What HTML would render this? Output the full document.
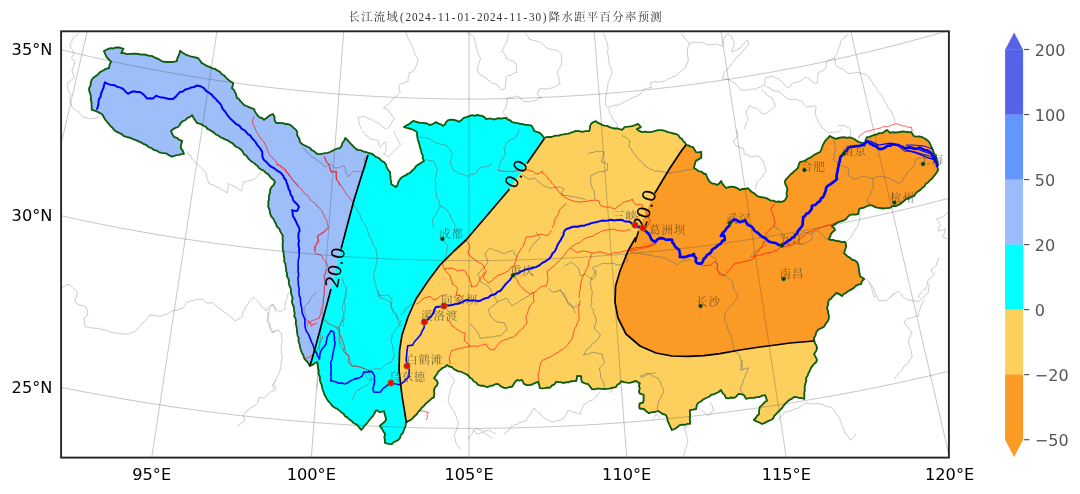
<!DOCTYPE html>
<html><head><meta charset="utf-8"><title>长江流域降水距平百分率预测</title>
<style>
html,body{margin:0;padding:0;background:#fff;}
body{width:1080px;height:494px;overflow:hidden;}
svg{display:block}
.tk{font-family:"DejaVu Sans","Liberation Sans",sans-serif;font-size:16.2px;fill:#000}
.cb{font-family:"DejaVu Sans","Liberation Sans",sans-serif;font-size:16px;fill:#555}
.cl{font-family:"DejaVu Sans","Liberation Sans",sans-serif;font-size:18.3px;fill:#000}
.city{font-family:"Liberation Serif","Noto Serif CJK SC",serif;font-size:11.5px;letter-spacing:0.9px;fill:#3a3a2a;fill-opacity:.68}
.ttl{font-family:"Liberation Serif","Noto Serif CJK SC",serif;font-size:11.3px;fill:#333}
</style></head><body>
<svg width="1080" height="494" viewBox="0 0 1080 494">
<defs>
<clipPath id="fr"><rect x="61.1" y="31.3" width="887.8" height="426.3"/></clipPath>
<clipPath id="bs"><path d="M103.9 51.1 L108.0 49.0 L110.7 48.1 L113.5 48.3 L116.2 47.4 L118.8 47.5 L121.3 48.2 L123.5 48.9 L121.2 53.0 L124.0 53.2 L126.9 54.2 L130.1 53.9 L132.8 53.7 L135.6 53.7 L138.4 54.0 L141.2 54.7 L144.0 54.5 L146.5 54.9 L149.0 55.8 L151.6 55.8 L153.9 57.1 L156.3 58.1 L158.6 59.1 L160.7 60.5 L162.9 61.7 L166.5 62.0 L170.0 62.0 L173.6 61.9 L176.9 61.2 L177.3 58.4 L178.4 56.0 L179.5 53.6 L180.0 50.8 L182.6 52.7 L185.2 54.3 L188.1 55.5 L190.4 56.4 L193.0 56.9 L195.5 57.5 L198.1 58.2 L200.0 60.5 L201.8 63.1 L204.6 64.5 L207.1 66.2 L209.9 67.0 L212.4 68.4 L215.3 69.0 L217.5 70.7 L219.9 71.8 L221.5 74.0 L223.8 75.2 L225.5 77.0 L227.1 78.8 L229.0 80.3 L231.0 81.7 L233.1 83.1 L232.8 85.6 L231.9 88.1 L233.9 89.9 L235.3 92.6 L236.3 95.2 L237.0 97.9 L239.2 99.3 L240.6 101.4 L242.4 103.1 L244.2 105.1 L246.5 106.0 L248.9 107.1 L251.4 108.2 L254.1 109.1 L254.9 111.6 L256.4 113.8 L258.0 115.9 L259.9 117.5 L262.3 118.2 L263.9 119.9 L266.1 118.3 L268.2 116.6 L270.4 115.0 L272.9 114.0 L274.5 116.8 L274.6 120.1 L275.9 122.9 L278.4 123.0 L280.8 123.2 L283.2 123.1 L285.6 124.2 L288.0 124.0 L290.3 125.1 L292.3 126.6 L294.1 128.3 L296.1 129.9 L297.3 132.2 L297.1 135.0 L298.4 137.2 L299.6 139.5 L299.8 142.0 L302.4 144.2 L305.1 145.7 L307.9 147.0 L310.2 148.1 L311.8 150.1 L314.0 151.2 L315.8 152.9 L317.9 154.1 L320.5 154.2 L322.9 153.6 L325.3 153.2 L327.7 152.8 L329.9 152.0 L332.4 150.8 L334.8 149.5 L337.3 148.5 L339.9 148.1 L341.7 145.7 L342.4 143.0 L344.2 140.7 L345.2 138.0 L347.7 140.3 L349.9 142.9 L351.9 144.9 L353.7 146.9 L355.7 148.6 L358.1 150.1 L360.8 150.2 L363.3 151.5 L366.1 152.1 L368.7 153.0 L371.5 153.6 L373.9 155.1 L375.7 156.9 L378.1 157.7 L380.1 159.1 L381.7 161.0 L383.9 161.9 L385.9 164.3 L386.6 167.2 L388.2 169.7 L390.1 172.2 L390.0 174.4 L390.6 176.8 L390.5 179.2 L391.2 181.6 L391.2 184.1 L393.5 185.5 L396.0 187.1 L397.6 184.9 L398.2 182.3 L399.5 180.1 L400.9 178.0 L403.1 176.5 L405.5 175.4 L407.5 173.9 L409.9 173.0 L412.1 170.7 L414.4 168.6 L416.2 166.0 L418.7 164.4 L421.3 162.7 L424.0 160.9 L422.7 158.4 L422.8 155.4 L421.4 152.9 L421.1 150.0 L420.0 147.6 L419.5 145.0 L418.8 142.5 L417.9 140.0 L417.4 137.4 L417.1 134.7 L417.0 132.0 L414.1 130.2 L411.0 129.0 L408.7 128.3 L406.3 127.7 L404.0 127.0 L406.2 125.5 L408.8 124.4 L410.9 122.7 L413.2 120.9 L415.7 121.6 L418.4 122.5 L421.2 122.9 L423.9 123.0 L427.2 123.5 L429.8 125.1 L433.2 123.8 L435.9 122.1 L438.2 123.5 L440.9 124.3 L443.2 125.9 L445.1 124.3 L446.2 121.9 L448.2 120.1 L451.0 119.6 L454.0 119.9 L456.6 120.7 L459.1 121.8 L461.5 120.1 L463.8 117.9 L466.7 117.1 L469.3 116.0 L472.2 115.1 L474.4 115.8 L477.0 115.0 L479.5 115.5 L482.1 115.9 L484.3 117.1 L486.1 119.1 L488.5 118.7 L491.0 118.6 L493.5 119.5 L496.1 118.9 L498.4 118.2 L501.0 118.7 L503.5 118.2 L506.2 118.0 L507.8 119.6 L510.3 120.3 L511.8 122.1 L514.7 122.6 L517.4 123.1 L520.2 123.9 L522.5 124.0 L524.8 124.8 L527.3 124.9 L529.7 125.1 L531.8 125.9 L533.2 128.4 L534.1 130.9 L537.0 132.0 L539.9 132.8 L542.2 135.3 L544.1 138.0 L546.4 137.1 L549.0 137.0 L551.6 137.0 L554.1 136.0 L556.4 135.6 L558.9 135.6 L561.2 134.7 L563.6 134.4 L566.2 133.9 L568.6 133.6 L571.1 132.7 L573.5 131.9 L575.9 130.8 L579.1 131.1 L582.1 131.9 L585.4 131.1 L589.1 131.1 L589.9 128.7 L590.1 126.3 L590.9 124.0 L593.3 122.1 L595.9 121.2 L597.7 122.8 L600.0 123.7 L602.2 124.9 L604.5 125.6 L607.2 125.9 L609.5 127.1 L612.0 127.9 L614.5 128.5 L617.1 128.4 L619.6 129.2 L622.0 129.8 L624.9 126.9 L628.5 126.6 L632.1 126.1 L635.1 125.2 L638.0 123.9 L640.9 127.1 L636.8 129.1 L639.3 130.9 L642.1 132.1 L644.7 131.6 L647.3 132.0 L650.1 132.1 L652.8 131.7 L655.4 130.8 L658.1 130.1 L660.6 130.2 L663.1 130.4 L665.6 131.1 L667.9 132.1 L670.6 132.7 L673.3 133.5 L676.1 134.0 L678.4 135.2 L679.8 137.6 L682.0 139.0 L683.2 141.1 L685.1 142.7 L685.9 144.8 L688.4 145.4 L690.6 146.6 L693.1 147.2 L694.5 149.5 L696.0 152.1 L698.5 152.3 L701.1 151.8 L701.4 155.0 L701.1 157.9 L698.5 159.4 L695.8 160.9 L695.1 163.3 L694.4 165.6 L693.9 168.0 L697.0 169.9 L699.1 171.4 L701.6 171.7 L703.5 173.5 L705.8 174.0 L707.0 176.8 L708.2 179.6 L709.9 181.9 L712.1 183.5 L714.8 183.7 L716.9 185.0 L719.4 183.4 L721.1 181.0 L722.3 183.6 L724.1 185.8 L726.1 188.0 L728.6 187.1 L731.3 186.7 L734.0 186.9 L737.2 188.1 L739.9 190.1 L742.5 188.8 L745.4 189.0 L747.9 188.2 L749.8 190.2 L751.9 192.0 L754.7 193.6 L757.0 195.8 L759.9 197.0 L762.7 197.4 L765.5 197.8 L768.1 198.9 L770.5 200.5 L773.4 200.7 L776.0 201.9 L778.6 201.5 L781.4 201.9 L784.1 201.0 L785.9 198.8 L787.0 196.1 L786.5 193.3 L787.3 190.7 L787.1 188.1 L786.1 185.7 L785.1 183.5 L784.9 181.0 L786.9 178.4 L789.1 176.2 L790.6 174.2 L792.7 172.9 L794.2 171.0 L796.2 169.7 L797.9 167.9 L798.7 164.9 L800.0 161.9 L802.7 161.5 L805.2 160.6 L807.5 158.9 L809.9 157.9 L812.4 156.3 L814.7 154.6 L817.3 153.2 L820.0 152.1 L821.3 149.9 L821.9 147.5 L822.9 145.2 L824.0 142.9 L825.6 140.3 L827.8 138.2 L829.9 136.0 L832.9 137.6 L835.9 138.9 L838.6 138.0 L841.3 137.5 L844.2 137.1 L846.4 137.9 L849.1 137.4 L851.6 137.9 L854.1 139.0 L856.4 140.6 L859.0 142.2 L861.9 142.9 L865.2 142.9 L865.6 139.9 L867.0 137.1 L869.5 136.8 L871.7 135.9 L874.1 135.0 L876.7 134.4 L879.2 133.1 L881.9 133.2 L884.6 131.6 L886.9 129.9 L890.1 132.9 L892.4 132.2 L895.0 132.5 L897.5 132.3 L899.9 132.0 L902.8 131.4 L905.5 131.8 L908.2 132.0 L911.1 132.1 L912.5 134.0 L913.9 136.2 L916.6 136.6 L919.4 136.4 L922.0 137.1 L924.1 138.3 L926.2 139.4 L928.2 140.9 L929.7 143.0 L930.7 145.4 L931.8 147.7 L932.9 150.1 L933.7 152.6 L935.0 155.0 L936.3 157.4 L936.9 160.1 L937.6 162.5 L937.8 165.0 L937.4 167.5 L938.2 170.0 L936.6 172.6 L934.9 174.9 L933.1 177.2 L931.6 179.1 L929.6 180.6 L928.0 182.5 L925.9 183.8 L924.4 186.4 L922.1 188.1 L920.1 190.1 L917.6 191.6 L915.6 193.6 L913.9 196.2 L911.2 196.7 L908.9 198.5 L906.0 199.0 L904.1 200.7 L902.2 202.3 L900.4 204.0 L897.9 205.2 L895.6 206.2 L892.8 206.0 L890.6 207.6 L888.1 208.1 L885.5 208.1 L883.0 208.5 L880.5 208.0 L878.2 207.9 L875.3 207.2 L872.8 205.6 L870.0 205.1 L866.9 206.2 L863.8 207.8 L861.4 208.0 L859.1 209.1 L858.7 211.5 L858.2 214.0 L855.4 214.6 L852.6 214.4 L849.9 214.8 L847.8 216.8 L846.0 219.2 L843.5 220.5 L840.8 221.3 L838.2 222.2 L836.1 223.4 L834.2 224.9 L832.0 226.2 L833.8 227.8 L835.1 230.1 L832.8 231.8 L830.9 233.9 L830.2 236.6 L828.8 238.9 L831.2 240.0 L833.7 240.0 L835.8 241.0 L839.0 241.1 L841.9 242.2 L845.2 241.9 L846.0 244.4 L846.0 247.1 L845.1 250.0 L844.0 253.0 L845.9 254.8 L847.8 256.6 L850.1 257.9 L852.1 259.7 L854.8 260.5 L857.0 262.1 L858.0 264.2 L858.6 266.6 L858.9 269.1 L859.4 272.5 L860.0 276.2 L862.0 277.5 L864.1 279.1 L862.0 281.2 L861.0 284.1 L858.3 284.6 L855.8 285.9 L853.6 288.1 L850.9 289.6 L848.0 291.2 L846.1 292.8 L843.7 294.0 L841.9 296.1 L839.2 294.0 L836.0 293.0 L834.5 295.0 L832.6 296.6 L831.1 298.6 L828.9 300.0 L828.2 302.6 L828.0 305.4 L826.9 308.1 L827.9 310.4 L828.2 313.0 L828.8 315.4 L829.0 317.8 L828.2 320.5 L826.6 322.6 L825.2 324.7 L823.9 326.9 L820.9 328.3 L817.9 329.9 L816.2 332.4 L815.5 335.4 L813.9 338.0 L814.3 340.6 L814.9 343.2 L816.4 345.5 L817.1 347.9 L816.0 351.3 L814.0 354.1 L815.6 356.9 L817.0 359.9 L816.0 362.3 L814.0 364.0 L812.4 365.9 L810.9 368.0 L809.9 370.6 L808.5 373.0 L807.6 375.7 L806.0 378.2 L806.3 380.4 L805.6 382.8 L805.0 385.2 L804.6 387.6 L804.9 390.2 L804.1 392.9 L804.4 396.0 L804.2 399.0 L801.6 398.0 L799.0 397.9 L796.6 397.1 L794.1 396.9 L792.1 398.6 L789.8 399.7 L787.8 401.2 L785.9 403.0 L784.4 404.8 L782.9 406.7 L781.5 408.7 L779.8 410.4 L778.1 411.8 L776.2 414.0 L774.3 415.8 L773.2 418.4 L770.9 420.0 L768.7 420.9 L766.4 421.9 L764.3 423.2 L762.0 424.0 L759.4 422.5 L756.6 421.4 L753.8 420.0 L755.7 418.0 L757.1 415.8 L759.1 414.0 L759.1 410.4 L759.9 406.9 L762.3 404.9 L764.3 402.6 L767.0 400.8 L766.2 397.9 L765.1 395.1 L762.2 395.7 L759.6 397.0 L756.7 397.2 L754.2 397.9 L751.3 397.9 L748.6 398.1 L746.1 398.9 L744.0 395.2 L741.1 394.0 L738.1 394.2 L736.4 396.4 L734.1 397.9 L731.3 397.5 L728.7 398.3 L725.9 398.0 L724.8 395.1 L722.4 392.9 L721.0 389.9 L718.9 391.8 L716.5 393.0 L714.2 394.1 L711.1 394.9 L708.8 397.0 L705.9 398.0 L703.2 399.5 L700.8 401.5 L698.0 403.0 L696.6 405.9 L696.2 409.0 L693.0 409.6 L689.9 410.2 L689.9 412.8 L690.2 415.6 L689.7 418.4 L690.1 421.2 L690.1 423.8 L687.5 423.9 L685.0 424.8 L682.5 424.6 L680.0 425.1 L677.5 426.9 L675.0 428.8 L671.9 430.0 L670.4 427.0 L669.1 423.9 L667.7 421.1 L667.2 417.9 L665.8 414.9 L663.1 414.1 L660.6 412.5 L658.0 411.0 L655.1 412.0 L652.0 412.2 L648.9 413.2 L646.3 411.2 L643.9 409.0 L639.6 408.5 L639.2 406.0 L639.6 403.5 L643.1 402.5 L643.7 400.0 L643.6 397.5 L643.6 394.8 L639.5 393.4 L639.0 391.0 L639.8 388.5 L638.9 386.0 L639.7 383.4 L636.0 381.0 L632.9 381.8 L629.9 382.9 L626.9 382.6 L623.9 382.2 L621.1 381.1 L619.8 383.4 L617.3 384.7 L616.0 387.1 L613.6 387.5 L611.3 388.1 L608.9 388.7 L606.5 388.9 L603.9 389.1 L601.6 388.8 L599.2 388.6 L596.8 388.7 L594.4 389.3 L592.0 389.1 L590.0 386.5 L588.1 384.2 L584.9 383.3 L581.8 381.9 L581.2 379.1 L581.2 376.1 L577.1 375.9 L576.8 378.6 L576.0 381.1 L573.6 381.2 L571.1 381.2 L568.8 382.2 L566.3 382.2 L564.1 383.0 L561.4 382.4 L558.7 382.2 L555.9 382.0 L554.4 384.4 L551.7 385.7 L549.8 387.9 L547.5 387.5 L545.0 388.2 L542.5 388.4 L539.8 388.1 L539.2 384.9 L538.1 381.8 L535.3 382.9 L532.7 384.2 L530.1 385.1 L526.9 385.0 L524.1 384.2 L521.9 379.9 L519.5 380.6 L517.1 380.0 L515.0 382.1 L513.5 384.6 L511.9 386.9 L509.3 387.0 L506.7 388.0 L504.0 387.8 L501.8 386.9 L499.9 385.6 L498.0 383.9 L495.3 384.2 L493.0 385.5 L490.4 385.8 L487.8 387.0 L485.5 386.6 L483.1 385.7 L480.5 385.7 L478.0 384.9 L476.3 382.7 L473.7 381.3 L471.9 378.8 L469.8 377.6 L468.2 375.4 L465.8 374.0 L463.5 373.0 L461.1 371.7 L458.4 371.4 L455.9 370.1 L453.6 369.0 L451.8 367.0 L449.1 366.5 L447.1 365.0 L444.9 367.0 L442.2 368.2 L440.1 370.1 L438.2 371.8 L436.9 373.9 L435.6 376.1 L434.0 378.1 L436.4 380.2 L437.8 382.9 L436.9 385.5 L434.9 387.4 L434.0 390.1 L434.3 393.5 L434.0 397.1 L431.8 398.4 L429.9 400.2 L427.9 401.9 L425.7 403.7 L423.9 405.9 L421.8 407.8 L420.0 410.1 L418.2 411.9 L416.8 414.3 L414.8 416.0 L412.9 417.9 L410.8 419.9 L408.2 421.1 L405.9 422.9 L405.6 425.4 L404.9 427.7 L403.9 429.9 L403.0 432.8 L400.8 435.1 L399.9 438.2 L398.3 439.9 L396.1 441.1 L393.7 442.0 L392.1 444.0 L388.4 443.9 L384.9 442.9 L384.9 440.0 L384.4 437.0 L385.1 434.1 L383.3 431.3 L381.8 428.6 L379.9 426.0 L381.9 423.9 L384.2 422.2 L386.0 420.0 L385.6 416.9 L384.6 414.0 L384.1 411.1 L380.1 412.1 L376.1 410.0 L374.7 413.1 L372.9 416.0 L371.1 417.8 L369.5 419.8 L367.9 422.0 L366.3 424.0 L364.4 425.9 L362.8 428.1 L361.2 429.9 L359.5 427.9 L357.9 425.8 L356.0 424.2 L353.3 422.8 L351.4 420.6 L349.1 419.2 L347.2 417.4 L345.1 416.2 L343.7 414.1 L341.8 412.6 L340.0 411.1 L337.5 409.0 L334.7 407.6 L332.2 405.9 L330.5 403.5 L328.6 401.4 L326.9 399.2 L325.8 396.8 L324.5 394.7 L323.8 392.4 L322.8 390.0 L322.2 387.5 L321.7 384.9 L320.6 382.6 L319.9 380.1 L320.1 377.5 L319.2 375.2 L318.5 372.9 L318.8 370.3 L317.9 367.9 L317.8 364.9 L317.0 362.0 L314.6 363.3 L312.5 365.0 L309.9 366.0 L308.8 363.8 L307.3 361.8 L305.5 360.0 L304.0 357.9 L303.4 355.2 L301.8 352.7 L300.9 350.0 L300.2 347.7 L299.9 345.3 L299.1 343.0 L298.4 340.6 L298.8 338.1 L297.7 335.8 L297.2 333.4 L297.0 331.0 L296.8 328.5 L296.4 326.0 L295.7 323.5 L296.0 320.9 L295.5 318.4 L294.2 316.1 L294.8 313.4 L294.1 310.9 L294.0 308.4 L293.4 306.0 L292.3 303.6 L291.9 301.1 L292.7 298.4 L291.9 296.0 L291.1 293.5 L290.9 290.9 L290.7 288.4 L289.6 286.0 L288.7 283.6 L289.0 280.9 L288.2 278.4 L286.9 276.1 L287.1 273.4 L286.1 271.1 L286.1 268.4 L285.6 265.9 L285.3 263.4 L284.1 261.1 L284.4 258.5 L283.8 256.0 L283.7 253.5 L283.1 251.0 L282.7 248.5 L282.7 246.0 L282.6 243.5 L283.0 241.0 L282.5 238.5 L282.9 236.0 L281.6 233.6 L280.2 231.2 L279.2 228.6 L276.9 226.7 L276.0 224.0 L274.7 221.4 L273.4 218.8 L271.4 216.6 L270.2 213.8 L269.8 211.6 L269.4 209.2 L268.2 206.9 L268.5 204.4 L268.2 201.9 L269.0 199.7 L268.8 197.2 L269.2 194.8 L270.1 192.5 L270.1 190.0 L271.5 187.2 L273.7 184.9 L275.0 182.0 L273.5 179.8 L271.2 178.2 L269.7 176.1 L268.0 174.1 L265.6 172.7 L263.7 170.7 L261.2 169.6 L258.9 168.0 L257.6 165.9 L255.5 164.5 L253.7 162.7 L251.5 161.5 L249.7 159.8 L248.0 158.0 L246.5 155.8 L244.0 154.4 L242.8 151.8 L241.1 149.7 L238.8 147.9 L236.4 147.0 L234.3 145.3 L232.5 143.1 L230.1 142.1 L227.7 140.3 L225.1 139.4 L222.6 138.1 L220.1 137.0 L218.1 135.4 L215.8 134.5 L214.1 132.6 L212.0 131.4 L209.9 129.9 L207.7 129.1 L206.2 127.1 L204.1 126.0 L201.8 124.6 L199.5 123.7 L196.9 122.9 L195.3 120.4 L193.5 117.8 L192.1 115.2 L190.0 116.9 L187.5 117.9 L185.6 120.0 L183.1 121.0 L180.9 122.7 L179.7 125.0 L178.0 127.0 L175.4 127.9 L173.0 129.2 L171.0 130.9 L172.3 134.1 L173.9 136.8 L176.9 137.8 L179.2 139.9 L182.2 140.9 L181.1 144.4 L180.8 148.1 L182.8 150.9 L183.9 153.8 L181.5 154.2 L179.1 154.8 L176.7 155.1 L174.3 155.8 L172.0 156.7 L169.3 155.4 L166.9 153.7 L164.2 153.1 L161.3 152.8 L158.8 152.1 L156.6 150.6 L153.8 149.9 L151.5 148.1 L148.5 147.0 L146.0 144.8 L143.4 143.9 L141.0 142.4 L138.5 141.3 L135.9 140.1 L133.5 139.4 L131.3 138.2 L128.8 137.5 L126.4 136.9 L124.1 136.2 L121.7 134.2 L119.0 132.9 L116.4 131.7 L114.2 130.1 L112.5 127.7 L110.3 126.1 L108.8 123.9 L107.1 122.0 L105.1 119.5 L103.6 116.7 L102.0 114.1 L99.5 112.9 L97.2 111.6 L94.6 110.7 L91.8 109.9 L91.7 107.5 L91.6 105.0 L91.6 102.5 L90.8 100.1 L91.0 97.5 L90.6 95.1 L89.9 92.8 L89.1 90.4 L89.1 88.1 L90.5 85.7 L90.8 82.9 L91.5 80.3 L93.1 77.9 L95.5 76.2 L98.0 74.4 L100.0 72.1 L102.2 71.0 L104.4 69.7 L106.6 68.7 L109.1 68.0 L109.5 64.8 L111.1 61.9 L108.8 59.4 L106.5 57.0 L105.2 54.0 Z"/></clipPath>
</defs>
<rect width="1080" height="494" fill="#fff"/>

<g clip-path="url(#fr)">
<g id="prov" fill="none" stroke="#b4b4b4" stroke-width="0.7"><path d="M79.2 33.1 L77.5 34.7 L75.5 36.0 L73.8 37.6 L72.1 38.9 L71.9 41.5 L70.3 43.6 L70.1 45.9 L71.4 48.0 L72.5 50.2 L74.2 52.2 L73.5 54.3 L72.5 56.3 L71.2 58.0 L73.3 59.8 L74.9 62.0 L74.1 64.8 L73.0 67.4 L71.9 70.0 L72.7 72.7 L73.6 75.4 L74.1 78.1 L71.9 79.3 L70.2 81.1 L68.1 82.0 L67.7 85.1 L67.1 88.3 L68.4 90.1 L69.4 92.3 L71.0 94.2 L70.2 96.7 L69.9 99.4 L70.1 102.0 L71.3 104.0 L71.7 106.3 L72.9 108.2 L74.9 109.7 L76.9 111.0 L79.0 112.2 L80.5 114.4 L82.4 116.2 L84.0 118.0 L86.3 117.6 L88.5 118.4 L90.7 118.8 L92.9 118.3 L95.0 118.2 L97.9 117.2 L100.1 115.2"/><path d="M405.4 31.8 L406.7 33.8 L406.9 36.2 L408.0 38.1 L409.1 40.1 L410.3 42.1 L411.2 44.6 L412.7 46.9 L413.4 49.5 L414.4 52.2 L414.8 54.3 L416.2 56.1 L417.3 58.0 L418.1 59.9 L417.3 62.6 L416.5 65.2 L415.4 67.6 L414.3 70.1 L411.9 71.9 L409.2 73.0 L408.9 75.8 L408.0 78.4 L408.1 81.2 L405.9 81.8 L403.6 82.8 L401.3 83.7 L399.4 85.1 L399.0 87.5 L399.4 89.9 L400.3 92.2 L398.3 94.2 L396.2 96.1 L394.4 98.1 L392.0 99.9 L390.4 102.3 L388.4 104.1 L385.7 106.1 L383.3 108.2 L385.8 108.8 L388.3 110.0 L389.3 112.5 L391.5 114.0 L392.3 116.5 L394.4 118.3 L392.9 120.5 L391.5 122.8 L390.3 125.1 L389.0 127.3 L387.2 129.0"/><path d="M361.2 129.0 L360.3 126.5 L359.0 124.0 L359.2 121.8 L358.2 119.6 L358.3 117.2 L361.2 117.1 L364.2 116.0 L366.1 117.3 L368.0 118.6 L370.2 119.2 L372.3 120.0 L374.1 121.5 L376.2 122.3 L378.3 123.0 L380.3 124.2 L382.0 126.0 L383.9 127.7 L386.2 129.0"/><path d="M467.2 33.0 L470.0 34.3 L472.4 35.9 L474.5 38.1 L474.6 40.6 L475.7 43.0 L475.9 45.5 L476.3 47.9 L477.7 50.4 L477.9 53.2 L479.0 55.7 L480.5 57.9 L480.0 60.5 L479.1 62.8 L478.3 65.2 L477.6 67.6 L477.3 70.1 L478.7 72.7 L480.3 75.1 L482.6 75.7 L484.2 77.6 L486.4 78.0 L488.0 80.1 L490.1 81.5 L492.0 83.1"/><path d="M509.1 33.1 L508.0 35.1 L507.8 37.5 L507.0 39.7 L507.0 42.2 L505.6 43.9 L504.1 45.8 L503.7 48.3 L501.9 50.1 L502.9 52.1 L504.5 53.8 L505.3 55.9 L506.2 58.2 L508.2 58.7 L509.9 60.4 L512.2 60.7 L514.0 62.2 L515.9 63.2 L516.6 65.3 L516.9 67.5 L516.2 69.9 L517.0 72.3 L514.8 73.0 L512.6 73.9 L510.6 75.4 L508.0 75.6 L506.2 77.2 L506.1 79.3 L505.8 81.5 L505.8 83.7 L505.6 86.0 L505.0 88.2 L502.1 90.1 L499.9 88.3 L498.3 85.8 L495.9 84.1 L492.0 83.1"/><path d="M525.2 33.0 L526.6 34.9 L528.2 36.7 L529.1 39.1 L531.3 39.5 L533.4 40.5 L535.8 40.6 L537.8 41.8 L540.1 42.0 L541.7 43.7 L543.8 44.8 L545.3 46.6 L547.0 48.1 L549.3 48.9 L551.4 49.6 L553.8 49.6 L556.1 50.0 L558.2 51.0 L560.5 53.2 L562.2 56.0 L561.4 58.5 L561.5 61.1 L561.7 63.6 L561.1 66.2 L559.4 67.8 L558.5 70.1 L557.2 72.2 L557.2 74.6 L558.9 76.8 L559.1 79.3 L559.4 81.7 L560.2 84.0 L557.9 84.7 L556.1 86.1 L554.3 87.5 L552.1 88.0 L549.5 88.3 L546.9 89.0 L544.3 89.1 L541.7 88.5 L538.9 89.2 L538.6 91.8 L537.2 94.2 L539.3 96.0 L541.1 98.0 L538.7 98.3 L536.8 100.1 L534.4 100.5 L532.0 101.3 L529.4 101.8 L526.7 101.2 L524.1 102.3 L522.0 100.2 L520.3 97.9 L518.1 96.1 L515.8 96.3 L513.7 97.0 L511.5 97.8 L509.2 97.4 L507.0 98.2 L507.1 100.9 L506.9 103.6 L506.1 106.1 L505.3 108.3 L504.1 110.2 L502.9 112.1 L504.7 114.5 L506.9 116.3 L509.0 118.2 L512.0 121.2"/><path d="M603.1 33.1 L604.5 35.0 L604.8 37.4 L605.8 39.6 L606.9 41.6 L607.1 44.0 L607.9 46.3 L608.0 48.6 L607.8 50.9 L607.4 53.2 L608.4 55.5 L608.4 57.7 L608.4 60.1 L609.2 62.4 L609.3 65.1 L611.2 67.1 L611.0 69.8 L612.1 71.9 L611.5 74.7 L609.9 77.0 L609.6 79.7 L608.3 82.1 L607.7 84.6 L607.7 87.2 L607.2 89.7 L606.3 92.1 L606.3 94.5 L605.7 96.9 L605.7 99.3 L605.7 101.8 L605.3 104.1 L606.7 106.2 L608.4 108.2 L609.5 110.6 L609.7 113.4 L611.7 115.5 L612.3 118.1 L613.9 120.5 L616.0 122.5 L617.3 125.2 L617.3 129.0"/><path d="M608.4 107.0 L610.7 106.8 L612.9 105.5 L615.4 105.1 L618.0 105.3 L620.3 104.1 L622.2 103.1 L624.3 102.1 L626.1 100.8 L628.4 100.5 L630.1 98.7 L632.1 98.1 L634.2 97.0 L636.5 96.6 L638.2 95.0 L640.2 94.3 L641.9 91.3 L644.3 89.2 L646.6 88.3 L649.0 88.0 L651.4 87.3 L650.9 84.8 L650.2 82.7 L652.7 82.3 L655.0 81.7 L657.4 82.3 L659.7 81.7 L662.0 81.6 L664.3 81.1 L666.6 80.5 L668.2 78.7 L670.5 78.4 L672.1 76.7 L674.5 76.3 L676.5 75.2 L678.2 73.7 L679.8 72.0 L681.5 70.6 L683.6 69.5 L685.2 68.2 L686.4 65.4 L687.6 62.8 L688.3 59.9 L688.0 57.6 L687.6 55.1 L687.5 52.6 L687.5 50.2 L687.7 47.6 L688.6 45.3 L689.5 43.2 L687.5 41.6 L686.3 39.5 L684.2 38.1 L682.7 35.6 L681.4 33.0"/><path d="M689.3 42.9 L691.6 43.3 L693.7 42.0 L696.0 42.4 L698.3 42.7 L700.4 42.1 L703.2 42.5 L705.5 43.9 L708.0 45.0"/><path d="M708.0 45.1 L710.6 44.3 L713.4 44.7 L716.1 43.9 L719.0 45.1 L721.9 46.2 L723.1 43.1 L723.2 40.1 L724.6 37.6 L726.2 35.2 L728.0 33.1 L729.4 35.1 L731.4 36.7 L732.3 39.2 L734.2 41.1 L734.2 43.3 L733.8 45.5 L733.3 47.7 L731.9 49.7 L732.0 52.2 L734.0 50.8 L736.1 50.1 L738.0 49.0 L740.1 48.2 L741.5 45.8 L743.3 43.8 L745.2 42.0 L747.1 40.1 L749.1 43.2 L747.8 45.6 L745.7 47.7 L744.1 49.9 L742.2 51.4 L741.2 53.6 L739.5 55.1 L737.4 56.2 L736.0 58.0 L734.8 60.2 L733.3 62.2 L731.4 64.0 L729.9 66.1 L728.8 68.1 L726.9 69.5 L725.2 71.1 L724.0 73.0 L723.1 76.1 L722.1 79.0 L724.7 79.2 L727.4 79.3 L730.1 80.1 L731.8 81.8 L733.9 82.9 L736.1 84.3 L737.7 86.1 L739.3 88.2 L741.1 90.1 L743.4 90.0 L745.7 90.0 L748.1 90.1 L750.5 89.2 L753.1 89.0 L755.7 89.2 L757.9 87.9 L760.1 87.2 L761.9 85.6 L764.0 85.1 L765.0 82.9 L764.8 80.4 L765.1 78.1 L767.4 77.4 L769.9 77.0 L772.2 76.1 L774.4 77.3 L776.6 78.5 L779.0 79.1 L781.0 81.3 L783.0 83.2 L785.3 85.1 L788.3 88.1 L790.5 85.9 L792.3 82.9 L795.0 82.9 L797.6 82.1 L800.4 81.0 L802.3 79.9 L804.0 78.1 L806.3 77.0 L808.3 78.6 L810.5 80.0 L812.1 82.0 L814.6 83.2 L817.2 83.2 L817.7 80.6 L817.7 78.1 L817.9 75.6 L818.2 73.0 L820.5 71.6 L823.0 70.5 L825.1 69.1 L826.0 66.8 L826.3 64.5 L826.1 62.0 L828.0 60.6 L830.0 59.6 L832.1 58.8 L834.3 58.1 L835.0 55.9 L836.5 54.2 L837.3 52.0 L838.2 50.0 L838.8 47.5 L840.0 45.1 L840.5 42.5 L841.3 40.0 L843.2 38.7 L844.9 37.2 L846.8 35.8 L848.3 34.0"/><path d="M834.3 58.2 L835.0 60.7 L835.6 63.4 L836.1 66.1 L838.2 67.2 L840.1 68.4 L842.5 68.6 L844.1 70.2 L846.1 71.8 L848.5 73.3 L850.7 73.3 L853.1 73.2 L855.5 72.7 L857.9 72.5 L860.1 73.0 L863.1 73.8 L865.8 74.6 L868.3 76.2 L869.6 78.1 L870.9 80.2 L872.3 82.1 L873.5 84.2 L875.0 86.1 L876.5 88.3 L877.3 90.3 L878.8 92.3 L880.5 94.0 L882.0 96.0 L883.2 98.0 L884.4 100.1 L885.1 102.4 L886.8 104.1 L887.3 106.4 L888.6 108.4 L890.6 109.9 L891.5 112.0 L892.4 114.3 L893.2 116.4 L894.4 118.5 L894.5 121.0 L895.4 123.2"/><path d="M761.2 89.2 L763.1 90.5 L764.9 92.0 L766.0 94.2 L768.0 95.7 L770.1 96.9 L772.2 98.0 L773.2 100.8 L774.5 103.3 L775.0 106.3 L773.7 108.0 L771.5 109.0 L770.0 110.8 L768.2 112.0 L765.3 113.7 L762.1 114.0 L760.5 111.8 L758.5 109.8 L756.1 108.0 L753.7 107.7 L751.5 106.7 L749.2 106.0 L748.4 108.3 L746.7 110.0 L746.0 112.2 L746.8 114.8 L747.5 117.5 L748.2 120.3 L746.6 122.1 L745.9 124.5 L745.2 126.9 L744.1 129.0"/><path d="M765.2 85.2 L767.2 87.1 L770.0 88.1 L772.0 90.0 L774.7 91.1 L777.6 91.0 L780.0 92.1 L782.2 93.8 L783.9 95.9 L786.1 97.5 L788.1 99.0 L790.8 99.6 L793.5 99.5 L796.3 99.2 L799.0 100.7 L802.1 101.3 L803.5 103.1 L804.6 105.3 L806.2 107.1 L808.7 106.8 L811.2 106.4 L813.7 105.9 L816.3 106.3 L815.7 108.8 L815.5 111.5 L815.1 114.2 L816.3 116.8 L817.6 119.4 L818.2 122.1 L819.9 124.4 L821.5 126.8 L823.2 129.0"/><path d="M838.3 125.2 L841.3 125.7 L844.2 125.3 L846.2 126.6 L848.4 127.5 L850.3 129.0"/><path d="M186.1 151.1 L188.0 152.5 L188.7 154.9 L191.0 155.8 L191.6 158.2 L193.2 159.8 L194.5 161.6 L196.2 163.0 L197.8 164.9 L199.8 166.2 L201.5 167.9 L203.2 169.5 L204.3 171.7 L206.4 173.0 L206.3 175.7 L207.3 178.1 L208.1 180.5 L208.3 183.0 L210.7 184.2 L213.2 185.0 L215.5 186.2 L217.7 187.6 L220.3 188.2 L222.3 190.3 L225.0 191.4 L227.2 193.0 L227.2 190.6 L228.4 188.2 L228.3 185.6 L228.3 183.1 L230.3 184.8 L232.9 185.4 L235.1 186.7 L237.3 188.0 L239.2 189.8 L241.4 191.1 L241.9 188.9 L242.0 186.5 L243.4 184.5 L243.3 182.0 L245.7 181.9 L247.7 180.7 L250.1 180.8 L252.1 179.5 L254.2 179.2 L256.4 177.6 L257.9 175.6 L259.3 173.5 L261.4 172.1"/><path d="M362.2 131.0 L363.8 132.6 L365.5 134.1 L366.8 135.9 L368.8 137.2 L370.0 138.9 L372.9 139.5 L375.6 139.9 L378.1 141.1 L378.7 144.2 L380.4 147.1 L382.0 145.5 L383.1 143.3 L385.3 142.0 L385.8 144.2 L385.9 146.5 L386.3 148.8 L386.2 151.0 L383.4 154.0 L386.0 155.1 L388.3 157.2 L389.8 155.5 L391.2 153.6 L392.7 152.0 L394.5 150.5 L396.1 149.1 L398.4 147.2 L400.4 145.0 L399.7 142.8 L398.2 141.0 L397.6 138.9 L396.3 137.0 L394.7 134.2 L394.2 131.0"/><path d="M736.2 129.2 L737.3 131.9 L738.1 135.1 L736.7 137.3 L735.2 139.4 L733.1 140.9 L734.6 143.5 L736.2 146.2 L738.4 146.6 L740.6 147.9 L743.2 148.2 L744.0 151.0 L744.1 154.2 L746.9 154.7 L749.4 156.1 L752.1 157.0 L755.0 156.1 L758.1 156.2 L760.1 157.4 L761.2 159.7 L763.3 160.9 L764.0 163.5 L765.1 165.9 L765.1 168.7 L766.3 171.0 L764.5 172.9 L763.1 174.8 L762.1 177.3 L760.4 178.7 L758.9 180.6 L757.2 182.0 L756.3 184.4 L755.7 186.8 L755.1 189.1"/><path d="M823.3 128.9 L826.0 130.7 L828.2 133.0 L830.7 132.7 L833.2 132.2 L835.7 132.0 L838.2 132.1 L841.3 129.0"/><path d="M850.4 129.0 L850.5 131.3 L850.9 133.5 L850.4 135.8 L851.3 138.0"/><path d="M62.1 287.2 L64.5 286.6 L66.6 284.8 L69.2 284.2 L71.0 286.2 L73.0 288.3 L75.4 289.8 L77.2 292.1 L76.9 294.7 L76.2 297.2 L75.1 299.5 L75.0 302.2 L77.3 304.0 L79.9 305.2 L83.2 305.6 L85.9 307.2 L87.3 310.1 L87.9 313.0 L87.2 315.5 L85.2 317.0 L83.9 319.1 L85.0 321.7 L84.5 324.4 L85.1 327.0"/><path d="M139.2 327.0 L140.7 325.3 L142.1 323.4 L144.1 322.2 L145.7 320.5 L147.0 318.6 L148.6 316.9 L150.0 315.1 L152.7 315.5 L155.2 315.2 L157.7 316.3 L160.1 316.0 L162.8 315.7 L165.1 314.4 L167.6 313.6 L169.9 312.3 L172.2 311.2 L174.3 310.1 L176.8 310.5 L178.8 309.2 L180.9 308.4 L183.1 308.3 L184.7 305.6 L186.2 303.1 L188.6 301.8 L191.1 300.6 L193.9 300.6 L196.4 299.0 L199.3 299.7 L202.4 299.2 L204.7 301.2 L207.2 303.1 L209.9 303.0 L212.5 302.3 L214.4 304.1 L216.3 306.1 L218.0 308.0 L220.4 308.7 L222.2 310.2 L224.0 312.1 L226.3 313.2 L228.3 314.7 L230.4 316.1 L231.9 317.9 L233.6 319.6 L235.2 321.1 L237.6 319.4 L240.3 318.3 L242.4 316.1 L242.7 313.8 L243.4 311.5 L245.0 309.5 L245.3 307.2 L246.9 305.3 L248.4 303.4 L249.3 301.3 L251.8 299.5 L253.5 297.1 L255.5 299.0 L257.5 301.0 L259.3 302.8 L260.5 305.1 L262.1 307.4 L264.8 308.8 L266.3 311.1 L267.4 308.9 L268.7 306.9 L270.6 305.3 L273.4 304.1 L273.8 307.0 L275.1 309.5 L276.0 312.2"/><path d="M268.3 312.0 L267.5 314.8 L268.1 317.6 L267.5 320.1 L267.6 322.6 L269.1 324.6 L269.4 327.0"/><path d="M85.2 327.1 L87.6 326.8 L90.0 327.8 L92.6 327.9 L95.1 328.4 L97.6 328.2 L100.1 328.9 L102.4 329.6 L104.9 329.8 L107.2 330.5 L109.4 331.9 L111.8 332.3 L114.2 333.0 L116.5 332.6 L118.8 333.7 L121.1 333.6 L123.4 333.9 L125.8 334.0 L128.1 334.1 L130.8 332.9 L133.5 332.1 L136.1 330.9 L137.6 329.0 L139.2 327.0"/><path d="M269.5 326.9 L269.9 329.3 L271.8 330.8 L272.3 333.1 L276.0 331.0"/><path d="M276.2 380.2 L274.5 382.8 L272.5 385.0 L273.5 387.9 L275.4 390.1 L272.9 391.0 L270.5 392.2 L268.4 394.1 L266.2 395.9 L264.5 398.0 L261.9 397.8 L259.3 397.3 L258.2 400.1 L257.4 403.1 L255.3 405.0 L253.1 406.5 L250.7 407.7 L248.4 409.2 L247.1 411.5 L244.7 412.9 L243.2 415.3 L244.2 418.1 L244.4 421.2 L242.0 422.8 L239.7 424.4 L237.4 426.0"/><path d="M859.1 209.9 L859.3 212.3 L860.2 214.5 L859.6 216.8 L860.1 219.1 L859.2 221.7 L858.1 224.3 L857.4 227.0 L855.6 228.8 L854.4 230.9 L853.0 232.8 L852.4 235.0 L850.9 237.4 L848.8 239.0 L847.2 241.1"/><path d="M864.3 278.3 L866.5 279.5 L868.6 281.1 L870.2 283.1 L870.5 285.9 L871.9 288.4 L872.2 291.0 L872.8 293.7 L874.2 295.8 L875.3 298.0"/><path d="M947.3 212.1 L946.0 214.0 L944.4 215.7 L942.4 216.9 L939.4 218.2 L936.2 218.9 L938.2 220.7 L939.3 222.9 L940.6 225.0 L938.8 227.9 L938.5 231.1 L940.8 230.6 L943.1 229.9 L945.3 229.1 L944.8 231.9 L943.9 234.6 L942.4 237.0 L944.9 238.1 L947.4 239.1"/><path d="M938.3 257.2 L938.0 259.8 L937.0 262.5 L936.3 265.3 L934.2 267.5 L931.3 269.1 L931.8 271.4 L933.5 273.1 L934.3 275.2 L932.4 276.5 L930.6 278.2 L928.3 279.3 L927.6 281.8 L927.4 284.6 L926.3 287.2 L924.6 289.4 L922.4 291.3 L920.3 293.3 L919.1 295.5 L918.3 298.0"/><path d="M894.2 293.0 L892.1 295.5 L890.3 298.0"/><path d="M869.0 282.0 L870.2 284.1 L872.1 285.8 L873.3 287.8 L874.3 289.9 L874.9 292.6 L876.0 295.1 L877.6 297.4 L878.2 300.0 L880.8 301.0 L883.6 300.2 L886.4 301.0 L888.0 299.0 L890.1 297.4 L892.1 295.7 L894.1 293.9 L896.3 292.6 L898.4 291.1 L899.9 292.7 L901.5 294.3 L902.4 296.5 L904.1 298.1 L907.1 299.5 L910.2 300.1 L912.9 301.0 L915.7 301.0 L918.2 301.9 L920.1 299.9 L922.2 298.1 L924.6 296.3 L926.7 294.4 L928.5 292.1 L928.3 289.7 L928.4 287.5 L929.2 285.3 L929.3 283.0"/><path d="M924.2 300.0 L922.9 301.8 L922.3 304.1 L921.0 305.9 L920.3 308.2 L919.6 310.7 L918.4 313.3 L918.2 315.9 L915.7 316.3 L913.4 317.5 L910.9 318.2 L908.4 318.2 L905.9 319.7 L904.1 321.9 L905.1 324.4 L907.3 325.8 L908.1 327.9 L910.7 330.3 L912.1 333.0 L910.5 335.2 L909.9 338.0 L908.3 340.1 L908.8 342.8 L909.3 345.5 L910.2 348.1 L911.2 350.7 L911.7 353.5 L912.2 356.0 L911.0 358.2 L909.3 360.0 L908.3 362.0 L906.6 364.5 L904.1 366.1 L903.0 368.3 L901.9 370.4 L900.1 372.3 L898.1 374.0 L896.2 376.4 L894.2 379.0"/><path d="M778.3 420.2 L779.6 418.0 L781.4 416.2 L783.2 414.4 L784.2 412.2 L786.7 411.6 L789.0 410.8 L791.5 410.6 L793.6 409.5 L796.0 408.7 L798.4 408.0 L800.2 406.6 L802.3 405.6 L804.0 403.9 L806.4 403.1 L808.6 403.7 L811.0 403.9 L813.3 403.7 L815.7 404.0 L818.1 403.5 L820.5 404.0 L822.9 404.6 L825.0 406.1 L827.5 406.8 L830.1 406.9 L832.3 408.0 L834.2 409.8 L835.0 412.1 L836.6 414.0 L837.8 416.0 L839.4 417.9 L840.2 420.3 L840.9 422.6 L841.9 425.0 L843.2 427.2 L844.0 429.6 L844.3 432.0 L846.1 434.0 L847.7 435.9 L849.2 437.9 L850.4 440.2 L852.2 438.0 L854.2 436.2 L856.0 434.1"/><path d="M683.1 456.3 L684.3 454.0 L685.0 451.7 L685.1 449.3 L686.5 447.2 L686.6 444.7 L687.2 442.4 L688.1 440.0 L687.0 437.8 L686.6 435.3 L686.0 432.8 L685.2 430.4 L683.9 428.0 L686.1 427.2 L688.1 426.1"/><path d="M710.2 402.2 L710.8 404.3 L712.4 406.0 L712.6 408.3 L714.2 410.2 L711.8 411.7 L710.3 414.3 L708.2 416.1 L706.3 413.9 L704.0 412.2 L702.1 410.1"/><path d="M652.2 420.3 L653.8 418.4 L655.0 416.3 L655.9 414.2 L658.3 415.9 L660.0 418.1"/><path d="M448.2 372.1 L449.5 374.3 L451.0 376.3 L452.8 378.1 L454.3 380.1 L453.8 382.7 L452.1 385.0 L451.2 387.5 L450.3 390.2 L450.0 392.5 L449.0 394.8 L448.6 397.2 L448.3 399.6 L448.2 402.0 L449.7 404.0 L450.5 406.2 L451.6 408.3 L453.1 410.2 L454.4 412.0 L455.1 414.5 L456.3 416.8 L456.8 419.3 L458.1 421.6 L458.5 424.0 L457.3 426.6 L456.9 429.4 L455.5 431.7 L454.5 434.3 L454.4 436.8 L455.7 439.1 L455.6 441.7 L456.4 444.3 L458.2 446.7 L460.4 449.0"/><path d="M472.4 430.2 L474.7 431.1 L476.3 433.0 L478.4 434.0 L480.8 433.0 L483.3 431.9 L485.8 431.0 L488.4 430.3 L490.9 431.6 L493.6 432.5 L496.0 434.2"/><path d="M468.0 438.9 L469.3 437.1 L470.8 435.4 L472.2 433.7 L473.2 431.6 L474.6 429.9 L476.2 428.1 L477.9 429.6 L480.3 429.7 L482.4 430.7 L484.1 432.3 L485.8 434.2 L488.1 435.6 L490.3 437.1 L492.1 439.0"/><path d="M504.3 434.0 L505.6 432.4 L507.8 431.4 L509.1 429.5 L510.3 427.5 L512.3 426.2 L514.3 424.7 L517.0 424.6 L519.0 422.8 L521.6 422.3 L523.9 421.3 L526.4 420.0 L527.6 418.2 L528.5 415.9 L530.7 414.5 L531.2 411.9 L532.9 410.1 L534.4 408.0 L535.6 410.1 L537.3 411.8 L539.4 413.0 L540.7 415.0 L542.8 416.3 L544.1 418.1 L546.6 419.5 L549.3 420.1 L551.5 421.7 L554.2 422.1 L556.6 420.7 L559.3 420.3 L561.8 419.3 L564.1 418.2 L564.9 415.9 L566.7 414.3 L567.2 412.1 L568.5 410.3 L570.8 410.8 L572.9 412.2 L575.6 412.3 L577.9 413.4 L580.4 414.0 L580.8 411.4 L581.9 409.0 L583.2 406.6 L584.4 404.0 L586.5 403.4 L588.2 401.8 L590.1 400.6 L592.5 400.3 L593.9 398.5 L595.8 397.2 L596.9 395.1 L598.5 393.4 L600.4 392.1"/><path d="M610.3 393.0 L611.8 390.8 L612.4 388.1"/><path d="M269.0 310.0 L269.2 312.6 L268.4 315.0 L268.2 317.5 L268.0 320.0 L269.5 322.3 L270.1 324.8 L270.5 327.3 L271.9 329.5 L272.2 332.1 L275.0 330.8 L278.3 329.9 L279.9 332.3 L282.1 334.0 L281.4 336.4 L282.0 338.9 L282.1 341.3 L281.8 343.7 L281.2 346.2 L281.1 348.5 L281.5 350.9 L281.2 353.4 L282.1 355.7 L282.3 358.2 L281.3 360.5 L281.3 362.9 L280.7 365.3 L281.1 367.8 L280.1 370.0 L279.4 372.3 L278.6 374.4 L277.4 376.3 L276.1 378.1 L275.5 380.3 L274.4 382.3 L273.2 384.2 L275.0 386.4 L276.2 389.0"/><path d="M317.3 364.0 L317.5 366.6 L317.5 369.2 L317.6 371.7 L318.2 374.0 L318.2 376.6 L318.1 379.1 L317.3 381.6 L317.5 384.1 L317.1 386.5 L317.2 389.0"/><path d="M269.2 310.2 L270.3 307.3 L272.0 304.9 L274.6 306.6 L276.2 309.2 L278.0 310.7 L280.1 312.1 L282.6 310.4 L285.3 309.1 L285.0 306.7 L285.2 304.5 L285.4 302.2 L286.0 300.1 L287.7 297.5 L287.7 294.5 L289.2 292.0"/></g>
<g clip-path="url(#bs)">
<rect x="60" y="30" width="900" height="430" fill="#FDD05E"/>
<path d="M544.0 100.0 L544.0 138.6 L527.0 163.4 L509.0 190.0 L490.0 212.0 L466.0 240.0 L454.0 251.0 L440.0 265.0 L428.0 281.0 L416.0 299.0 L408.0 317.0 L402.0 335.0 L399.6 350.0 L399.0 370.0 L402.0 396.0 L405.0 414.0 L406.4 423.0 L407.0 470.0 L250.0 470.0 L250.0 100.0 Z" fill="#00FFFF"/>
<path d="M370.0 100.0 L369.0 150.0 L368.0 155.0 L354.0 200.0 L341.0 248.7 L332.0 287.0 L316.0 345.0 L310.0 366.0 L306.0 380.0 L50.0 380.0 L50.0 30.0 L370.0 30.0 Z" fill="#9EBEFA"/>
<path d="M690.0 100.0 L686.0 145.0 L682.0 150.0 L670.0 168.0 L656.0 190.0 L636.0 235.0 L628.0 251.0 L620.0 271.0 L615.6 286.0 L615.0 302.0 L618.0 318.0 L626.0 334.0 L640.0 346.0 L656.0 353.0 L672.0 356.0 L688.0 356.4 L704.0 355.6 L720.0 353.6 L740.0 350.0 L760.0 347.0 L775.6 345.0 L790.0 343.0 L814.0 341.0 L960.0 341.0 L960.0 100.0 Z" fill="#FC9A26"/>
</g>
<g id="prov2" fill="none" stroke="#6e6e6e" stroke-opacity="0.6" stroke-width="1.0" clip-path="url(#bs)"><path d="M346.3 289.8 L346.0 292.5 L345.8 295.1 L345.4 297.6 L344.2 300.0 L344.2 302.6 L345.3 305.0 L344.9 307.5 L345.4 310.1 L344.9 312.6 L343.4 314.9 L342.8 317.5 L342.3 320.1 L340.8 321.8 L340.6 324.2 L339.5 326.2 L338.4 327.9 L339.3 330.5 L339.0 333.1 L340.0 335.5 L340.4 338.2 L339.8 340.7 L339.2 343.4 L339.4 346.2 L340.7 347.9 L342.7 349.1 L343.4 351.5 L344.9 353.1 L346.9 354.3 L348.3 356.1"/><path d="M378.3 290.0 L378.6 292.8 L380.0 295.3 L380.4 298.2 L383.1 298.5 L385.6 299.5 L388.0 300.8 L390.5 301.9 L390.6 304.8 L391.7 307.4 L392.5 309.9 L393.1 312.3 L394.8 314.0 L396.3 315.8 L397.2 318.0 L398.4 320.1"/><path d="M322.2 318.0 L324.4 319.9 L326.2 322.1 L328.1 324.0 L330.5 324.6 L332.5 325.6 L334.4 326.8 L336.3 328.1 L338.3 328.1"/><path d="M302.9 148.1 L305.0 149.6 L306.2 151.9 L308.6 153.0 L309.9 155.2 L311.8 156.9 L314.4 157.7 L316.0 159.7 L318.1 161.2 L320.1 162.3 L321.8 163.8 L323.7 165.2 L325.1 167.0 L327.4 165.2 L330.0 164.0 L332.2 165.2 L333.9 167.1 L336.2 168.2 L338.8 167.5 L341.4 166.5 L344.2 166.0 L345.0 168.2 L345.4 170.6 L346.2 172.8 L347.6 174.8 L348.1 177.0 L350.1 175.1 L351.8 172.8 L354.0 171.0 L356.8 171.5 L359.5 171.5 L362.3 172.2 L364.1 169.5 L366.0 167.1 L365.7 164.4 L364.7 161.8 L364.1 159.2 L365.6 157.1 L367.6 155.8 L369.2 154.1"/><path d="M425.3 158.9 L427.5 160.1 L429.8 160.6 L432.2 160.8 L434.4 161.9 L435.1 164.5 L436.2 166.8 L437.5 169.1 L436.7 171.6 L436.4 174.1 L436.1 176.7 L435.3 179.1 L435.1 181.4 L435.9 183.7 L435.9 186.0 L435.4 188.3 L435.9 190.6 L436.0 192.9 L436.5 195.0 L436.8 197.4 L438.4 199.4 L439.0 201.6 L439.4 204.0 L440.3 206.1 L439.2 208.6 L437.7 210.9 L436.4 213.2 L435.4 215.2 L433.8 216.9 L433.0 219.0 L432.3 221.1 L433.0 223.4 L433.5 225.7 L433.3 228.0"/><path d="M440.2 206.2 L442.5 206.9 L444.4 208.1 L446.2 209.1 L447.4 211.3 L449.2 212.9 L450.3 215.0 L450.8 217.4 L452.3 219.1 L452.8 221.6 L454.5 223.5 L455.2 225.8 L456.4 228.0"/><path d="M419.3 136.9 L421.5 137.6 L423.8 137.2 L426.0 137.8 L428.3 138.2 L430.2 139.5 L432.3 140.6 L434.2 141.9 L436.3 143.2 L438.8 143.4 L441.2 144.6 L443.8 144.9 L446.3 145.0 L447.5 147.3 L449.7 148.8 L450.7 151.1 L452.5 153.2 L451.5 155.5 L451.7 158.1 L450.5 160.5 L450.5 163.1 L450.9 165.3 L451.8 167.3 L453.0 169.3 L454.5 171.1 L456.9 171.7 L458.9 173.6 L461.6 174.1 L464.2 174.6 L466.4 176.0 L469.0 175.9 L471.3 174.1 L474.0 174.3 L476.3 173.0 L477.7 171.1 L478.7 168.8 L480.5 167.2 L483.1 167.1 L485.8 166.7 L488.6 166.1 L490.3 164.6 L492.0 163.1"/><path d="M352.0 202.2 L353.7 204.4 L354.7 206.9 L356.8 208.8 L358.0 211.3 L359.3 213.6 L360.5 216.0 L361.3 218.6 L362.0 221.1 L364.0 223.2 L365.3 225.5 L366.2 228.0"/><path d="M367.3 228.0 L367.7 230.6 L368.2 233.2 L369.4 235.5 L370.3 238.1 L371.7 239.8 L372.5 241.9 L372.7 244.3 L373.9 246.2 L375.5 247.9 L376.1 250.0 L376.5 252.4 L376.9 254.8 L377.2 257.2 L377.0 259.7 L377.1 262.1 L375.9 264.3 L376.1 267.0 L375.0 269.4 L374.5 271.8 L373.2 274.1 L374.1 276.4 L374.1 279.0 L374.7 281.4 L375.7 283.7 L376.1 286.1 L376.2 288.7 L377.5 291.1 L378.1 293.5 L378.3 296.3 L380.7 295.4 L383.2 295.6 L385.7 295.3 L388.1 295.1 L390.6 297.4 L392.1 300.2 L391.7 302.8 L391.4 305.5 L391.2 308.3 L393.2 309.9 L394.8 311.9 L396.3 314.1 L397.0 316.3 L398.1 318.3 L398.7 320.5 L398.7 322.8 L399.9 324.8 L400.2 327.0"/><path d="M400.1 316.2 L401.7 314.2 L403.7 312.5 L404.6 310.1 L406.3 308.1 L408.6 306.9 L410.6 305.2 L412.3 303.2"/><path d="M442.5 238.9 L443.6 241.0 L445.0 242.8 L446.6 244.5 L448.3 246.1 L447.1 248.2 L446.8 250.7 L446.3 253.0 L445.8 255.4 L445.1 257.8 L444.3 260.1"/><path d="M316.1 292.1 L314.6 294.1 L312.8 295.9 L311.1 297.8 L310.0 300.1 L309.0 302.5 L306.9 304.0 L305.1 305.8 L304.1 308.1 L304.1 310.8 L305.0 313.2 L305.7 315.6 L305.9 318.3 L306.9 320.3 L306.9 322.6 L307.5 324.8 L308.1 327.0"/><path d="M342.2 277.9 L343.1 280.6 L343.6 283.3 L345.4 285.5 L346.2 288.3 L346.5 290.7 L345.4 293.1 L345.4 295.6 L345.1 298.3 L344.2 300.6 L343.4 303.1 L342.7 305.6 L342.2 308.2 L342.6 310.7 L343.6 313.1 L343.6 315.7 L344.2 318.2 L343.6 320.3 L343.5 322.6 L343.5 324.8 L343.1 327.0"/><path d="M622.2 135.1 L623.9 136.9 L626.6 137.6 L628.3 139.5 L630.2 141.2 L629.2 143.9 L629.2 147.2 L631.1 148.8 L632.1 151.0 L633.5 153.0 L635.3 154.8 L636.2 157.0 L638.2 158.3 L639.4 160.4 L641.4 161.6 L643.1 163.1 L644.2 165.1 L646.2 166.5 L648.2 167.7 L650.1 169.1 L652.5 169.5 L654.2 171.2 L656.9 171.0 L659.4 171.3 L661.9 171.5 L664.3 172.2 L667.3 172.7 L670.4 173.0 L672.5 172.6 L674.7 172.0 L676.9 171.5 L679.3 172.0 L681.4 171.2 L683.6 170.6 L685.8 170.4 L687.9 169.5 L690.3 169.9 L692.4 169.1"/><path d="M588.3 154.2 L590.7 152.5 L593.7 152.4 L596.3 150.9 L598.8 151.8 L601.6 151.6 L604.2 152.1 L603.2 154.5 L602.9 157.1 L601.8 159.5 L601.4 162.2 L604.4 162.6 L607.4 164.0 L607.8 167.1 L607.3 170.2 L605.0 170.9 L602.8 171.6 L600.4 171.5 L598.3 171.9 L596.0 173.3 L593.7 174.5 L591.3 175.1 L590.8 177.8 L590.9 180.5 L590.4 183.1 L591.4 185.0 L592.0 187.2 L592.8 189.3 L594.3 191.2 L594.3 193.4 L594.7 195.6 L594.7 197.9 L595.2 200.1"/><path d="M522.1 174.0 L523.8 176.0 L526.1 177.4 L528.2 179.2 L531.1 179.0 L534.0 178.1 L536.3 179.6 L537.9 181.9 L540.5 182.9 L542.0 185.0 L544.7 186.3 L547.4 187.3 L550.1 188.2 L552.6 188.0 L555.1 187.1 L557.6 187.1 L560.2 187.0 L562.3 187.8 L564.3 189.0 L562.7 190.9 L561.7 192.9 L561.3 195.0 L563.6 195.6 L566.2 195.4 L568.7 195.9 L571.2 196.5 L573.7 196.7 L576.2 197.0 L578.7 198.0 L581.3 198.2 L583.8 199.0 L586.2 200.1"/><path d="M519.1 129.1 L518.3 131.7 L517.3 134.4 L516.0 137.0 L514.1 138.1 L512.1 139.2 L510.2 140.4 L508.2 141.1 L506.6 142.9 L505.5 145.1 L503.9 147.1 L504.6 149.7 L504.9 152.3 L505.0 155.2 L503.7 157.0 L502.3 158.9 L501.1 161.0 L500.1 163.0 L499.5 165.4 L499.1 167.9 L498.0 170.1"/><path d="M833.1 139.2 L834.3 141.4 L834.8 144.0 L835.0 146.7 L836.3 148.9 L835.0 151.4 L834.2 153.9 L834.4 156.7 L833.2 159.1 L834.8 160.8 L836.9 161.9 L838.4 163.7 L840.2 164.9 L842.9 166.1 L845.6 167.1 L848.4 168.0 L848.5 170.4 L848.3 172.8 L848.2 175.0 L850.3 176.4 L852.2 178.0 L854.2 179.2 L856.8 178.4 L859.3 177.7 L861.6 176.3 L864.2 176.0 L866.9 177.2 L869.5 178.0 L872.3 178.1 L875.5 177.5 L878.3 176.2 L880.9 176.4 L883.4 177.1 L885.9 177.4 L888.4 178.0 L890.6 178.6 L892.3 180.3 L894.6 180.7 L896.3 182.3 L898.4 183.1 L901.0 181.8 L903.4 180.2 L904.1 177.7 L905.9 175.7 L906.6 173.2 L908.7 171.8 L910.5 169.8 L912.4 167.9 L913.9 166.0 L914.9 163.8 L915.1 161.2 L916.3 159.1 L918.9 158.0 L921.6 158.1 L924.0 157.1"/><path d="M872.3 178.2 L872.5 180.3 L873.2 182.5 L872.6 184.7 L873.6 186.9 L873.2 189.2 L871.7 190.9 L870.7 193.1 L869.9 195.3 L868.5 197.1 L867.6 199.3 L866.5 201.3 L868.1 202.6 L870.3 203.1"/><path d="M517.2 258.0 L516.3 255.8 L514.2 254.4 L513.9 251.7 L512.3 250.2 L510.3 251.4 L508.0 251.7 L506.1 252.9 L504.3 254.0 L502.2 252.8 L499.9 252.5 L497.9 250.9 L495.3 250.5 L492.6 249.6 L490.0 247.9 L488.1 249.8 L486.5 251.8 L485.0 254.1 L486.0 256.7 L487.3 259.3 L488.0 262.1 L486.7 264.3 L485.2 266.5 L483.0 267.9 L481.6 270.3 L479.6 272.0 L477.9 274.2 L479.3 276.7 L479.7 279.6 L481.0 282.2 L483.4 283.5 L485.9 284.5 L488.2 286.3 L489.7 287.9 L490.8 290.0 L491.3 292.4 L493.1 294.0 L494.0 296.3 L495.3 298.0 L496.5 299.9 L497.3 302.0 L495.6 304.0 L493.7 305.3 L491.8 306.6 L490.1 308.2"/><path d="M497.0 302.3 L499.3 301.1 L501.6 300.2 L503.9 299.2 L506.2 298.3 L508.0 299.8 L509.1 302.2 L510.9 304.0 L512.2 306.0 L513.9 304.4 L516.2 303.5 L518.3 302.3 L519.9 300.6 L522.1 299.6 L524.2 298.6 L526.1 297.2 L528.3 296.2 L530.1 294.7 L532.2 293.4 L534.2 292.1"/><path d="M548.2 288.0 L550.3 290.1 L552.4 292.2 L555.0 291.7 L557.7 291.3 L560.2 290.0 L561.6 292.3 L564.0 293.8 L565.1 296.2 L566.3 298.8 L567.2 301.5 L568.4 304.3 L570.8 305.5 L573.3 307.2 L575.8 306.7 L577.8 304.8 L580.3 304.2"/><path d="M564.3 266.2 L566.2 264.7 L568.6 263.8 L570.3 262.2 L572.5 263.3 L574.6 264.6 L576.5 266.3 L578.3 267.9 L579.4 270.6 L579.8 273.4 L580.4 275.9 L582.4 275.3 L584.4 274.0 L586.5 275.3 L588.4 277.0 L590.7 278.1 L592.4 280.2 L593.8 278.2 L595.5 276.4 L596.1 274.0 L594.9 272.1 L593.9 269.9 L592.4 268.0 L594.1 266.6 L596.4 266.2 L598.5 265.5 L600.4 264.1 L602.7 263.7 L605.1 263.1 L607.6 263.9 L609.9 263.4 L612.2 263.1 L615.0 264.0 L617.6 264.9 L620.4 265.1 L622.1 263.4 L624.7 263.0 L626.3 261.2 L628.5 260.2 L626.7 258.3 L625.7 256.1 L624.4 254.1"/><path d="M536.4 232.1 L537.8 234.8 L540.2 237.0 L538.8 239.0 L536.7 240.3 L535.5 242.6 L533.4 243.9 L532.2 246.1 L530.6 247.9 L530.0 250.3 L528.2 252.0"/><path d="M488.0 307.9 L488.6 310.7 L489.6 313.3 L490.2 316.2 L491.9 317.5 L493.4 319.3 L495.3 320.6 L497.0 322.1 L499.5 322.3 L501.8 322.6 L504.1 322.9 L505.5 325.2 L506.3 327.6 L507.2 330.2 L505.2 331.4 L503.4 332.8 L502.2 334.9 L500.2 335.9 L497.7 335.8 L495.3 336.2 L492.9 336.8 L490.5 337.4 L487.9 337.0 L485.5 337.7 L482.8 338.2 L480.2 338.1 L479.2 336.0 L478.5 333.8 L477.1 332.1 L475.9 329.9 L474.0 328.1 L472.2 325.9 L470.1 324.0"/><path d="M592.2 308.0 L593.5 310.3 L593.3 313.0 L595.1 315.1 L595.3 317.7 L596.4 320.0 L595.8 322.7 L595.1 325.4 L594.2 328.0 L595.6 330.0 L597.4 331.5 L599.2 333.0 L600.3 335.2 L599.1 337.7 L597.0 339.8 L595.2 342.2 L593.3 343.2 L591.5 344.8 L590.3 346.9 L588.2 348.2 L586.3 350.2 L584.9 352.8 L583.4 355.2 L585.4 354.3 L587.8 354.4 L589.9 353.4 L592.1 352.5 L594.4 352.3 L596.9 353.2 L599.6 353.6 L602.3 354.0 L602.5 356.9 L603.3 359.5 L604.5 362.0 L603.0 364.4 L601.2 366.3 L599.3 368.0 L600.0 370.8 L600.4 373.4 L600.5 376.0 L601.1 378.2 L602.6 380.0 L603.2 382.3 L604.4 385.1 L604.3 388.2"/><path d="M640.4 377.0 L643.3 376.7 L645.9 375.5 L648.3 374.0 L650.9 373.3 L653.4 373.1 L656.0 373.1"/><path d="M724.7 275.6 L726.8 276.7 L728.6 278.4 L730.7 279.7 L732.7 281.3 L732.5 284.0 L733.2 286.6 L733.9 289.2 L735.0 291.5 L736.9 293.4 L737.9 295.9 L737.0 298.0 L735.4 299.9 L734.4 302.0 L732.5 303.6 L731.2 305.9 L729.0 307.4 L727.5 309.5 L726.0 311.5 L725.0 314.3 L724.7 317.1 L724.6 320.2 L725.8 322.4 L726.9 324.8 L727.3 327.5 L728.1 329.9 L729.5 331.8 L730.1 334.0 L731.5 335.8 L732.0 338.1 L731.9 340.5 L733.1 342.7 L732.9 345.3 L733.6 347.6 L733.8 350.0 L735.6 352.4 L738.4 353.6 L739.9 356.0 L739.9 358.3 L741.4 360.2 L741.1 362.6 L742.3 364.6 L742.1 366.9 L743.0 369.0"/><path d="M560.0 289.1 L561.3 291.3 L562.4 293.6 L563.8 295.8 L564.9 297.9 L566.8 299.9 L568.0 302.3 L570.3 303.7 L571.6 306.0 L573.0 308.1 L574.2 310.8 L576.0 313.1"/><path d="M596.1 269.9 L595.5 272.2 L594.3 274.1 L592.7 275.8 L591.6 277.8 L591.2 280.1 L590.0 282.2 L590.5 284.4 L591.1 286.8 L591.3 289.2 L592.3 291.5 L591.9 294.2 L592.0 296.4 L591.2 298.7 L591.7 301.1 L591.7 303.4 L590.6 305.7 L591.1 308.1"/><path d="M336.4 326.3 L337.3 328.8 L338.4 330.9 L339.7 333.0 L339.0 335.6 L338.9 338.3 L339.0 341.0 L340.7 342.9 L341.9 345.2 L343.1 347.5 L343.6 350.0 L344.4 352.5 L346.9 354.1 L349.5 355.5 L348.4 357.7 L348.6 360.0 L347.7 362.1 L350.0 364.0 L351.7 366.0 L354.3 366.2 L356.8 366.2 L359.0 366.9 L361.6 367.8 L364.2 368.5 L366.4 369.5 L368.8 370.2 L371.1 369.9 L373.3 369.4 L375.5 368.5 L377.8 368.4 L380.3 369.5 L382.6 367.4 L385.0 365.4 L387.0 363.9 L389.2 362.9 L391.6 362.2 L392.5 359.9 L393.5 357.7 L394.7 355.8 L393.7 353.6 L393.5 351.3 L393.1 349.3 L392.9 346.6 L392.1 344.2 L391.2 341.9 L390.8 339.4 L392.0 337.4 L391.8 334.9 L393.3 333.0 L395.0 331.0 L396.2 328.5 L397.9 326.5 L399.3 324.5 L400.7 322.4 L401.2 320.0"/><path d="M325.3 319.9 L327.2 321.4 L329.0 323.2 L330.7 325.0 L333.6 325.7 L336.5 326.5"/><path d="M342.9 319.9 L341.3 322.0 L340.6 324.6 L338.9 326.5"/><path d="M368.7 370.3 L369.0 373.1 L369.6 375.7 L371.2 377.7 L372.2 379.8 L370.3 381.4 L369.0 383.2 L367.4 384.7 L365.2 386.2 L363.0 387.0 L360.7 388.1 L359.1 389.9 L356.8 391.0 L355.0 392.7 L354.4 395.4 L353.3 397.8 L351.9 400.0"/><path d="M363.9 371.7 L365.3 373.8 L365.9 376.2 L367.2 378.2 L369.5 379.6 L372.1 379.9"/><path d="M640.0 376.1 L642.9 375.5 L645.3 373.9 L648.0 373.0 L649.8 374.4 L651.8 375.6 L653.8 376.5 L655.8 377.5 L657.9 378.2 L659.0 380.1 L660.4 381.9 L660.9 384.1 L661.6 386.3 L663.3 387.9 L663.9 390.2 L663.4 392.2 L662.3 394.2 L661.5 396.3 L660.5 398.3 L658.9 400.1 L658.8 402.4 L658.2 404.6 L657.4 406.8 L657.1 409.0 L660.0 412.1"/><path d="M742.2 360.0 L741.8 362.5 L740.8 364.9 L741.1 367.6 L740.3 370.1 L743.0 369.8 L745.5 368.4 L748.1 367.9 L747.7 370.7 L746.2 373.0 L745.4 375.6 L744.4 378.2 L743.1 380.3 L742.8 382.9 L741.9 385.3 L740.5 387.5 L740.3 390.0 L742.3 392.5 L744.2 395.1"/><path d="M773.7 226.0 L775.9 227.8 L778.7 228.7 L780.5 230.8 L781.8 233.4 L782.3 235.9 L781.8 238.3"/><path d="M794.9 242.9 L797.9 243.9 L801.1 244.9 L803.4 243.8 L805.8 242.9 L808.4 241.3 L811.0 240.0 L812.3 237.6 L812.6 234.9 L810.4 233.9 L808.1 233.4 L805.5 232.7 L803.2 231.9 L800.0 235.0"/><path d="M630.1 251.9 L632.3 251.8 L634.4 253.3 L636.7 252.9 L639.0 253.1 L641.1 253.8 L643.4 254.2 L645.5 254.7 L647.8 254.9 L650.1 255.0 L652.3 255.5 L654.5 256.4 L656.9 256.7 L659.2 256.9 L661.6 256.8 L663.7 258.2 L666.2 258.0 L668.3 259.5 L670.4 261.1 L672.7 262.4 L675.2 263.2 L677.1 265.0 L679.3 262.8 L682.2 261.1 L684.8 260.7 L687.4 259.9 L690.1 260.1"/><path d="M710.2 255.0 L711.9 256.8 L714.4 257.5 L716.3 259.3 L716.5 261.5 L716.8 264.0 L717.3 266.3 L717.4 268.8 L718.2 271.2 L720.2 272.6 L722.2 274.0 L724.2 275.5"/><path d="M750.1 257.2 L751.7 255.3 L753.0 253.5 L754.7 251.9 L756.7 250.7 L758.4 249.2 L760.0 247.7 L762.5 247.5 L764.1 245.6 L766.3 245.1 L764.5 242.9 L762.3 241.1"/><path d="M810.2 233.2 L813.0 232.4 L815.6 231.5 L818.4 231.0 L820.2 233.2 L822.7 234.7 L824.3 237.2 L826.2 238.7 L828.4 239.8 L830.4 241.1"/></g>
<g id="red" fill="none" stroke="#ff0000" stroke-opacity="0.62" stroke-width="1.0"><path d="M418.2 410.3 L420.8 410.8 L423.3 411.2 L425.7 411.9 L428.4 412.0 L427.1 414.7 L427.4 417.6 L426.3 420.1"/><path d="M338.9 326.7 L339.7 329.7 L339.6 332.9 L340.3 335.8 L342.1 338.3 L342.8 341.2 L343.5 343.7 L344.6 346.3 L344.6 349.2 L345.7 351.6 L346.5 354.3 L348.6 356.2 L349.3 359.0 L350.0 361.4 L350.5 363.9 L352.0 366.0 L354.1 366.0 L356.3 366.1 L358.5 366.6 L360.7 367.0 L363.4 368.3 L366.0 369.5 L368.9 370.2"/><path d="M308.0 320.1 L310.1 322.5 L312.1 324.8 L314.8 324.1 L317.0 322.4"/><path d="M305.6 358.9 L308.0 357.3 L310.7 356.5 L312.7 354.5 L315.1 352.9 L317.1 350.7 L317.8 348.6 L319.2 346.6 L319.6 344.4 L320.1 341.4 L322.2 339.1 L322.7 336.2"/><path d="M254.2 116.1 L253.1 119.0 L252.4 122.1 L252.9 124.2 L254.1 126.1 L255.2 128.1 L255.8 130.3 L256.7 132.4 L258.3 133.9 L259.2 136.3 L260.7 138.2 L262.1 140.2 L263.9 141.9 L264.8 144.2 L266.1 146.1 L267.0 148.7 L267.9 151.2 L269.0 153.7 L270.4 156.2 L272.3 157.4 L273.7 159.4 L275.6 160.7 L276.6 163.2 L278.4 164.6 L280.1 166.1 L281.8 167.9 L283.6 169.5 L285.7 170.7 L286.8 173.0 L288.8 174.3 L290.5 176.3 L291.5 178.5 L293.1 180.5 L295.0 182.2 L297.1 183.9 L298.3 186.2"/><path d="M276.0 164.1 L278.1 164.9 L280.2 165.7 L282.1 166.9 L283.9 168.0 L285.8 169.6 L286.6 171.8 L288.4 173.3 L289.2 175.5 L290.8 177.2 L292.1 179.2 L293.6 181.1 L295.1 183.0 L296.6 185.0 L298.3 186.8 L300.7 188.0 L302.0 190.0 L303.5 192.2 L305.0 194.1 L307.4 195.3 L309.0 197.2 L310.0 199.6 L311.9 201.3 L313.9 202.6 L315.8 204.1 L317.0 206.2 L319.0 207.6 L320.5 209.4 L322.2 211.3 L322.6 213.4 L324.1 215.2 L324.6 217.4 L325.9 219.3 L327.2 221.2 L326.9 223.5 L328.1 225.7 L328.1 228.0"/><path d="M315.0 250.9 L315.5 248.5 L315.6 245.9 L316.6 243.6 L317.7 241.2 L317.6 238.6 L318.3 236.0 L319.6 234.1 L321.7 232.9 L323.9 231.8 L325.3 229.7 L327.2 228.2"/><path d="M324.1 157.2 L325.4 159.4 L326.3 162.0 L328.1 163.9 L329.7 166.5 L330.6 169.2 L331.0 172.1 L333.6 172.1 L336.2 172.0 L335.8 175.1 L336.0 178.0 L337.2 180.7 L339.0 182.7 L340.5 184.9 L342.1 187.0 L343.4 189.5 L345.0 191.7 L346.3 194.1 L348.0 196.1 L349.8 198.2 L351.4 200.2 L353.2 202.1"/><path d="M328.3 228.0 L326.3 230.3 L324.2 232.1 L322.0 233.8 L319.5 234.8 L317.0 236.0 L318.3 238.9 L318.9 242.1 L317.0 243.3 L315.8 245.4 L314.1 247.0 L314.3 249.5 L315.0 251.8 L316.1 253.9 L319.3 254.6 L322.2 256.0 L322.9 258.4 L324.7 260.1 L326.1 262.2 L327.3 265.0 L328.2 268.0 L326.5 270.2 L325.8 272.9 L324.2 274.9 L324.0 277.5 L324.9 279.7 L325.2 282.3 L325.0 284.5 L324.4 286.9 L324.4 289.3 L324.7 291.8 L324.3 294.3 L324.1 296.5 L323.3 298.8 L323.3 301.2 L323.1 303.5 L322.8 305.9 L322.1 308.0 L320.8 310.5 L321.2 313.3 L319.9 315.7 L319.2 318.3 L316.8 318.8 L314.7 320.0 L312.4 320.3 L310.4 321.9 L308.0 322.1 L310.4 324.3 L312.1 327.0"/><path d="M498.1 170.0 L500.3 170.8 L502.6 171.1 L505.0 171.2 L507.4 171.5 L509.8 171.2 L512.2 172.0 L514.6 170.9 L517.4 170.7 L520.2 170.0 L522.3 169.8 L524.6 169.8 L526.8 170.0 L529.2 170.0 L531.1 171.1 L533.3 171.6 L535.0 173.4 L536.9 174.1 L539.8 173.0 L542.2 171.1 L543.1 173.4 L545.4 174.9 L547.1 176.8 L548.1 179.0 L550.5 180.7 L552.0 183.2 L554.0 185.3 L555.0 187.4 L557.1 188.9 L558.2 191.1 L559.9 193.1 L562.5 194.2 L563.8 196.8 L566.3 198.0 L568.8 199.2 L571.3 200.5 L574.2 201.2 L577.2 201.7 L580.1 202.2 L582.6 201.7 L585.0 201.5 L587.4 201.3 L589.8 200.7 L592.3 200.3 L594.6 200.2 L596.9 200.4 L599.2 201.1 L599.7 203.9 L601.2 206.0 L603.5 206.4 L605.7 207.1 L608.0 207.0 L610.2 207.0 L612.2 208.2 L614.4 209.0 L616.5 208.0 L618.1 205.9 L620.6 205.1 L622.3 203.2 L624.6 201.8 L627.3 201.1 L629.9 200.6 L632.3 199.1 L633.3 201.9 L635.3 204.3 L637.6 204.9 L640.0 204.7 L642.4 205.0 L642.9 207.4 L643.9 209.4 L645.8 210.9 L646.2 213.1 L647.5 215.6 L648.7 218.0 L650.2 220.0 L649.2 222.9 L647.8 225.5 L646.3 228.0"/><path d="M566.3 203.1 L564.5 205.5 L562.2 207.2 L560.2 209.0 L559.1 211.2 L558.5 213.3 L557.6 215.4 L556.2 217.1 L555.0 219.2 L554.2 221.4 L554.3 223.9 L553.1 225.9 L552.1 228.0"/><path d="M633.2 223.1 L634.0 221.0 L635.6 219.3 L636.2 217.2 L638.8 215.7 L641.3 214.2"/><path d="M442.3 262.2 L442.8 264.5 L443.4 266.8 L444.4 269.1 L446.9 268.2 L449.7 268.4 L452.5 268.2 L455.0 269.4 L457.5 271.0 L459.6 270.4 L462.0 270.0 L464.4 270.3 L465.9 271.9 L466.4 274.4 L468.1 276.1 L469.5 278.0 L469.7 280.4 L470.8 282.5 L471.5 284.7 L471.5 287.1 L473.8 286.3 L476.5 286.0 L477.3 284.1 L478.6 282.2 L479.8 280.3 L480.4 278.3 L481.9 276.2 L483.3 274.2 L484.4 272.1"/><path d="M444.2 269.2 L445.5 271.2 L447.4 272.6 L448.7 274.5 L450.2 276.0 L450.8 278.8 L452.0 281.4 L452.2 284.0 L455.2 285.7 L457.3 288.1 L457.2 290.5 L456.5 292.8 L456.3 295.1 L459.4 295.9 L462.4 297.1"/><path d="M416.3 304.0 L418.4 302.9 L420.4 301.2 L422.2 299.5 L424.3 298.0 L427.3 297.2 L430.3 296.3 L432.1 298.3 L434.2 300.0 L436.5 299.1 L438.5 297.7 L440.3 296.1 L442.8 295.3 L445.3 295.1"/><path d="M466.0 239.1 L466.8 241.4 L468.4 243.4 L469.5 245.6 L469.9 248.0 L468.6 250.9 L467.9 253.9 L470.3 255.6 L471.8 257.9 L474.4 258.9 L475.9 260.9 L478.4 262.4 L480.9 263.4 L483.2 265.2 L484.2 267.0 L484.8 269.2 L486.2 271.0 L485.2 273.5 L484.0 275.7 L483.1 278.1 L485.0 279.6 L486.6 281.3 L488.1 283.1"/><path d="M551.4 230.1 L550.0 232.7 L548.3 235.1 L545.5 235.3 L542.8 234.7 L540.1 234.1 L537.3 235.2 L534.3 236.0 L531.5 236.5 L528.9 236.9 L526.2 237.0 L525.5 239.4 L524.8 241.7 L524.1 244.1 L523.2 246.3 L521.4 248.0 L520.3 250.0 L519.2 252.1 L517.7 253.8 L517.3 256.1 L516.0 258.2 L516.0 260.9 L514.6 263.4 L514.2 266.1 L511.8 267.2 L509.8 268.6 L508.4 270.9 L506.0 272.0 L503.6 273.5 L500.9 274.5 L498.0 275.0 L496.7 277.0 L494.4 277.8 L493.1 279.8 L491.1 281.2 L488.1 283.1"/><path d="M515.1 276.2 L515.7 278.3 L517.4 280.0 L517.9 282.3 L519.0 284.1 L520.6 286.3 L522.8 287.8 L524.1 290.0 L526.2 291.4 L528.3 292.7 L530.3 294.3 L532.0 292.8 L534.2 292.3 L533.5 294.8 L533.5 297.5 L533.2 300.1"/><path d="M534.3 292.0 L536.5 290.9 L538.4 289.1 L540.3 287.2 L543.1 286.2 L546.2 286.1 L547.1 283.5 L547.8 280.8 L548.1 278.1 L547.5 275.8 L547.3 273.5 L547.1 271.0 L549.8 269.7 L551.7 267.4 L554.1 266.2 L555.9 263.7 L558.0 261.8 L560.2 260.1 L562.0 258.1 L563.6 256.1 L565.1 253.9 L566.6 251.8 L568.4 249.8 L570.4 247.9 L572.0 246.4 L574.1 245.3 L576.0 243.9 L578.4 243.1 L580.6 242.1 L582.3 240.4 L584.2 239.1 L586.9 237.7 L589.6 237.0 L592.4 236.1 L594.4 235.2 L596.1 233.6 L598.4 233.1 L600.3 231.9 L603.2 230.5 L606.4 230.0 L609.0 229.9 L611.7 229.4 L614.2 229.1 L617.3 230.3 L620.3 230.9 L622.9 231.1 L625.4 230.7 L627.8 229.7 L630.4 230.0"/><path d="M570.3 248.2 L572.2 249.5 L574.3 250.7 L576.1 252.2 L579.0 252.0 L581.6 251.1 L584.4 251.2 L587.0 251.5 L589.7 252.2 L592.3 253.2 L591.0 255.3 L590.7 257.9 L589.1 259.9 L588.6 262.7 L588.4 265.5 L587.2 268.1 L585.9 269.9 L585.6 272.2 L584.2 274.0 L583.2 276.0 L582.2 278.5 L581.4 281.0 L580.8 283.5 L580.4 286.0 L580.4 288.5 L579.8 290.9 L579.5 293.3 L579.1 295.7 L579.3 298.1"/><path d="M592.4 253.2 L595.0 252.6 L597.6 252.1 L600.2 251.9 L603.1 252.4 L605.6 253.8 L608.2 254.2 L610.8 254.1 L613.1 252.8 L615.5 252.6 L618.1 253.0 L620.4 252.1 L622.8 251.8 L625.1 250.7 L627.6 251.1 L630.0 250.8 L632.3 250.1 L635.0 250.1 L637.5 249.6 L639.8 248.2 L642.4 248.2 L645.2 247.9 L647.7 246.7 L650.6 245.9 L653.2 244.9 L656.0 244.0"/><path d="M534.2 300.0 L533.3 302.3 L531.7 304.0 L530.0 305.7 L529.2 308.1 L528.2 310.7 L527.4 313.5 L526.1 316.2 L526.2 319.1 L527.2 321.9 L526.2 324.3 L524.2 325.9 L523.2 327.9 L521.2 329.6 L519.2 331.1 L517.6 333.0 L516.1 335.0 L514.3 336.4 L512.4 337.6 L509.9 337.6 L508.1 339.1 L505.3 339.5 L502.6 340.6 L500.2 342.1 L498.5 344.0 L496.8 345.9 L495.5 348.0 L494.1 350.1 L491.6 349.4 L489.2 349.1 L487.6 346.6 L486.2 344.0 L483.5 344.9 L480.7 345.3 L478.1 346.2 L475.4 346.2 L472.7 346.0 L470.2 346.2 L468.1 344.0 L465.9 342.2 L464.0 340.0 L464.7 337.8 L464.8 335.4 L465.2 333.0 L462.4 332.5 L460.0 331.2 L458.0 329.9 L455.9 328.8 L454.3 326.9 L452.1 326.1 L451.1 323.7 L449.7 321.8 L448.0 320.0"/><path d="M470.0 346.2 L467.6 346.9 L465.1 347.1 L462.6 347.9 L459.9 348.1 L457.4 349.0 L454.8 350.0 L452.2 350.0 L450.9 352.7 L450.0 355.4 L449.1 358.2 L449.8 361.1 L450.0 364.1"/><path d="M580.2 300.2 L579.6 302.7 L579.1 305.4 L578.2 307.9 L578.6 310.4 L579.0 312.8 L578.7 315.2 L579.2 317.6 L579.2 319.9 L578.0 321.9 L576.8 323.8 L576.4 326.1 L574.9 327.9 L574.4 330.0 L573.5 332.7 L573.0 335.4 L572.4 337.9 L571.1 340.4 L569.3 342.1 L568.0 344.3 L566.4 346.3 L564.6 348.1 L562.6 349.6 L560.1 350.5 L558.4 352.2 L556.1 353.1 L554.2 354.6 L552.2 355.9 L550.1 357.2 L547.5 357.9 L545.0 359.5 L542.1 360.3 L540.9 362.7 L540.2 365.5 L539.4 368.1 L539.2 370.9 L538.3 373.5 L538.1 376.2 L538.8 379.1 L539.2 382.2"/><path d="M324.4 156.2 L325.1 158.2 L325.9 160.4 L327.1 162.3 L328.7 164.0 L329.3 166.1 L329.8 169.3 L331.4 172.1 L333.8 171.3 L336.5 171.0 L336.4 173.5 L336.6 175.8 L336.3 178.0 L337.2 180.3 L338.6 182.1 L339.2 184.3 L340.4 186.2"/><path d="M858.3 138.2 L859.8 135.7 L862.3 134.1 L864.4 132.2 L866.5 131.3 L868.8 131.0 L871.1 130.3 L873.3 129.5 L875.7 129.1 L877.9 128.5 L880.4 128.1 L882.4 126.9 L884.8 126.6 L887.3 126.7 L889.5 125.8 L891.7 125.0 L894.0 124.4 L896.2 123.6 L899.4 124.6 L902.4 125.9 L904.6 125.9 L906.8 126.8 L909.0 127.3 L911.4 127.2 L912.0 129.5 L911.9 132.1"/><path d="M774.4 203.6 L773.4 205.5 L771.7 207.1 L770.7 209.1 L771.6 211.1 L772.7 213.2 L773.1 215.5 L774.2 217.6 L774.0 220.1 L775.3 221.9 L773.9 225.9 L771.4 228.1 L769.0 230.2 L767.1 232.4 L765.8 235.1 L764.8 238.2 L764.7 241.7 L763.0 243.4 L762.5 246.1 L760.7 248.1 L759.4 250.1 L757.8 252.1 L756.1 253.7 L753.8 256.1 L751.0 257.7"/><path d="M702.5 266.1 L705.1 265.3 L707.8 265.6 L710.5 265.0 L712.7 263.4 L714.9 261.6 L718.0 264.3 L717.1 266.8 L716.9 269.5 L718.5 271.6 L719.5 274.2 L722.0 275.1 L724.7 275.5 L726.2 273.4 L728.0 271.6 L729.3 269.7 L731.2 268.0 L732.6 266.1 L733.8 264.3 L736.2 263.4 L738.5 262.7 L741.0 262.7 L743.3 261.5 L745.9 261.2 L748.6 260.8 L751.1 259.7 L753.7 259.0 L755.0 255.0"/><path d="M755.3 256.6 L757.3 255.3 L759.7 255.3 L761.9 254.7 L764.1 253.8 L766.2 253.1 L769.0 252.5 L771.7 252.2 L774.3 251.0 L776.4 250.4 L778.2 248.9 L780.1 247.6 L782.3 247.2 L784.8 246.5 L787.4 246.3 L789.8 245.4 L792.2 245.1 L794.1 243.3 L796.3 242.0 L798.2 240.3 L800.3 239.0 L802.3 237.0 L804.5 235.2 L806.4 233.1 L809.0 231.9 L811.7 231.1 L814.2 230.0 L817.0 228.8 L819.7 227.9 L822.6 227.1 L825.0 226.1 L827.6 225.2 L830.4 224.9 L833.0 223.8 L835.6 222.7 L838.4 222.0"/><path d="M629.9 249.1 L632.3 248.3 L634.8 248.2 L637.1 247.4 L639.6 247.5 L642.0 247.2 L644.6 245.9 L647.5 246.3 L649.9 245.0 L652.5 243.5 L655.1 242.1"/></g>
<g fill="none" stroke="#444" stroke-opacity="0.5" stroke-width="0.6"><line x1="117.2" y1="-97.8" x2="-32.1" y2="546.2"/><line x1="233.3" y1="-75.5" x2="133.3" y2="578.0"/><line x1="350.8" y1="-62.1" x2="300.7" y2="597.2"/><line x1="469.0" y1="-57.6" x2="469.0" y2="603.6"/><line x1="587.2" y1="-62.1" x2="637.3" y2="597.2"/><line x1="704.7" y1="-75.5" x2="804.7" y2="578.0"/><line x1="820.8" y1="-97.8" x2="970.1" y2="546.2"/><path d="M-112.6 343.9 L-97.7 348.3 L-82.8 352.5 L-67.8 356.6 L-52.8 360.7 L-37.8 364.6 L-22.8 368.4 L-7.7 372.0 L7.4 375.6 L22.6 379.0 L37.7 382.4 L52.9 385.6 L68.1 388.7 L83.3 391.7 L98.6 394.6 L113.9 397.3 L129.1 399.9 L144.5 402.5 L159.8 404.9 L175.1 407.2 L190.5 409.3 L205.9 411.4 L221.3 413.3 L236.7 415.2 L252.1 416.9 L267.6 418.4 L283.0 419.9 L298.5 421.3 L314.0 422.5 L329.4 423.6 L344.9 424.6 L360.4 425.5 L375.9 426.3 L391.4 426.9 L406.9 427.4 L422.4 427.9 L438.0 428.2 L453.5 428.3 L469.0 428.4 L484.5 428.3 L500.0 428.2 L515.6 427.9 L531.1 427.4 L546.6 426.9 L562.1 426.3 L577.6 425.5 L593.1 424.6 L608.6 423.6 L624.0 422.5 L639.5 421.3 L655.0 419.9 L670.4 418.4 L685.9 416.9 L701.3 415.2 L716.7 413.3 L732.1 411.4 L747.5 409.3 L762.9 407.2 L778.2 404.9 L793.5 402.5 L808.9 399.9 L824.1 397.3 L839.4 394.6 L854.7 391.7 L869.9 388.7 L885.1 385.6 L900.3 382.4 L915.4 379.0 L930.6 375.6 L945.7 372.0 L960.8 368.4 L975.8 364.6 L990.8 360.7 L1005.8 356.6 L1020.8 352.5 L1035.7 348.3 L1050.6 343.9 L1065.5 339.4 L1080.3 334.9 L1095.1 330.2 L1109.8 325.3 L1124.6 320.4 L1139.2 315.4 L1153.9 310.2 L1168.5 305.0 L1183.1 299.6 L1197.6 294.1 L1212.1 288.6 L1226.5 282.9 L1240.9 277.1"/><path d="M-64.9 183.1 L-51.2 187.1 L-37.5 191.0 L-23.8 194.8 L-10.0 198.5 L3.8 202.0 L17.6 205.5 L31.4 208.9 L45.3 212.2 L59.2 215.3 L73.1 218.4 L87.0 221.3 L101.0 224.2 L115.0 226.9 L129.0 229.6 L143.0 232.1 L157.0 234.5 L171.1 236.8 L185.2 239.0 L199.3 241.1 L213.4 243.1 L227.5 245.0 L241.6 246.8 L255.8 248.5 L269.9 250.0 L284.1 251.5 L298.3 252.8 L312.5 254.1 L326.7 255.2 L340.9 256.2 L355.1 257.2 L369.3 258.0 L383.6 258.7 L397.8 259.3 L412.0 259.8 L426.3 260.1 L440.5 260.4 L454.8 260.6 L469.0 260.6 L483.2 260.6 L497.5 260.4 L511.7 260.1 L526.0 259.8 L540.2 259.3 L554.4 258.7 L568.7 258.0 L582.9 257.2 L597.1 256.2 L611.3 255.2 L625.5 254.1 L639.7 252.8 L653.9 251.5 L668.1 250.0 L682.2 248.5 L696.4 246.8 L710.5 245.0 L724.6 243.1 L738.7 241.1 L752.8 239.0 L766.9 236.8 L781.0 234.5 L795.0 232.1 L809.0 229.6 L823.0 226.9 L837.0 224.2 L851.0 221.3 L864.9 218.4 L878.8 215.3 L892.7 212.2 L906.6 208.9 L920.4 205.5 L934.2 202.0 L948.0 198.5 L961.8 194.8 L975.5 191.0 L989.2 187.1 L1002.9 183.1 L1016.5 179.0 L1030.1 174.8 L1043.7 170.4 L1057.3 166.0 L1070.8 161.5 L1084.2 156.9 L1097.7 152.2 L1111.1 147.3 L1124.5 142.4 L1137.8 137.4 L1151.1 132.3 L1164.3 127.0 L1177.5 121.7"/><path d="M-18.9 28.1 L-6.4 31.8 L6.1 35.3 L18.7 38.8 L31.3 42.2 L43.9 45.5 L56.5 48.6 L69.1 51.7 L81.8 54.7 L94.5 57.6 L107.2 60.4 L119.9 63.1 L132.7 65.7 L145.5 68.2 L158.3 70.6 L171.1 72.9 L183.9 75.1 L196.8 77.3 L209.6 79.3 L222.5 81.2 L235.4 83.0 L248.3 84.7 L261.2 86.4 L274.1 87.9 L287.1 89.3 L300.0 90.7 L313.0 91.9 L326.0 93.0 L338.9 94.1 L351.9 95.0 L364.9 95.8 L377.9 96.6 L390.9 97.2 L403.9 97.8 L416.9 98.2 L429.9 98.6 L443.0 98.8 L456.0 99.0 L469.0 99.0 L482.0 99.0 L495.0 98.8 L508.1 98.6 L521.1 98.2 L534.1 97.8 L547.1 97.2 L560.1 96.6 L573.1 95.8 L586.1 95.0 L599.1 94.1 L612.0 93.0 L625.0 91.9 L638.0 90.7 L650.9 89.3 L663.9 87.9 L676.8 86.4 L689.7 84.7 L702.6 83.0 L715.5 81.2 L728.4 79.3 L741.2 77.3 L754.1 75.1 L766.9 72.9 L779.7 70.6 L792.5 68.2 L805.3 65.7 L818.1 63.1 L830.8 60.4 L843.5 57.6 L856.2 54.7 L868.9 51.7 L881.5 48.6 L894.1 45.5 L906.7 42.2 L919.3 38.8 L931.9 35.3 L944.4 31.8 L956.9 28.1 L969.4 24.4 L981.8 20.5 L994.2 16.6 L1006.6 12.6 L1018.9 8.4 L1031.2 4.2 L1043.5 -0.1 L1055.8 -4.5 L1068.0 -9.0 L1080.2 -13.6 L1092.3 -18.3 L1104.4 -23.1 L1116.5 -27.9"/></g>
<path d="M103.9 51.1 L108.0 49.0 L110.7 48.1 L113.5 48.3 L116.2 47.4 L118.8 47.5 L121.3 48.2 L123.5 48.9 L121.2 53.0 L124.0 53.2 L126.9 54.2 L130.1 53.9 L132.8 53.7 L135.6 53.7 L138.4 54.0 L141.2 54.7 L144.0 54.5 L146.5 54.9 L149.0 55.8 L151.6 55.8 L153.9 57.1 L156.3 58.1 L158.6 59.1 L160.7 60.5 L162.9 61.7 L166.5 62.0 L170.0 62.0 L173.6 61.9 L176.9 61.2 L177.3 58.4 L178.4 56.0 L179.5 53.6 L180.0 50.8 L182.6 52.7 L185.2 54.3 L188.1 55.5 L190.4 56.4 L193.0 56.9 L195.5 57.5 L198.1 58.2 L200.0 60.5 L201.8 63.1 L204.6 64.5 L207.1 66.2 L209.9 67.0 L212.4 68.4 L215.3 69.0 L217.5 70.7 L219.9 71.8 L221.5 74.0 L223.8 75.2 L225.5 77.0 L227.1 78.8 L229.0 80.3 L231.0 81.7 L233.1 83.1 L232.8 85.6 L231.9 88.1 L233.9 89.9 L235.3 92.6 L236.3 95.2 L237.0 97.9 L239.2 99.3 L240.6 101.4 L242.4 103.1 L244.2 105.1 L246.5 106.0 L248.9 107.1 L251.4 108.2 L254.1 109.1 L254.9 111.6 L256.4 113.8 L258.0 115.9 L259.9 117.5 L262.3 118.2 L263.9 119.9 L266.1 118.3 L268.2 116.6 L270.4 115.0 L272.9 114.0 L274.5 116.8 L274.6 120.1 L275.9 122.9 L278.4 123.0 L280.8 123.2 L283.2 123.1 L285.6 124.2 L288.0 124.0 L290.3 125.1 L292.3 126.6 L294.1 128.3 L296.1 129.9 L297.3 132.2 L297.1 135.0 L298.4 137.2 L299.6 139.5 L299.8 142.0 L302.4 144.2 L305.1 145.7 L307.9 147.0 L310.2 148.1 L311.8 150.1 L314.0 151.2 L315.8 152.9 L317.9 154.1 L320.5 154.2 L322.9 153.6 L325.3 153.2 L327.7 152.8 L329.9 152.0 L332.4 150.8 L334.8 149.5 L337.3 148.5 L339.9 148.1 L341.7 145.7 L342.4 143.0 L344.2 140.7 L345.2 138.0 L347.7 140.3 L349.9 142.9 L351.9 144.9 L353.7 146.9 L355.7 148.6 L358.1 150.1 L360.8 150.2 L363.3 151.5 L366.1 152.1 L368.7 153.0 L371.5 153.6 L373.9 155.1 L375.7 156.9 L378.1 157.7 L380.1 159.1 L381.7 161.0 L383.9 161.9 L385.9 164.3 L386.6 167.2 L388.2 169.7 L390.1 172.2 L390.0 174.4 L390.6 176.8 L390.5 179.2 L391.2 181.6 L391.2 184.1 L393.5 185.5 L396.0 187.1 L397.6 184.9 L398.2 182.3 L399.5 180.1 L400.9 178.0 L403.1 176.5 L405.5 175.4 L407.5 173.9 L409.9 173.0 L412.1 170.7 L414.4 168.6 L416.2 166.0 L418.7 164.4 L421.3 162.7 L424.0 160.9 L422.7 158.4 L422.8 155.4 L421.4 152.9 L421.1 150.0 L420.0 147.6 L419.5 145.0 L418.8 142.5 L417.9 140.0 L417.4 137.4 L417.1 134.7 L417.0 132.0 L414.1 130.2 L411.0 129.0 L408.7 128.3 L406.3 127.7 L404.0 127.0 L406.2 125.5 L408.8 124.4 L410.9 122.7 L413.2 120.9 L415.7 121.6 L418.4 122.5 L421.2 122.9 L423.9 123.0 L427.2 123.5 L429.8 125.1 L433.2 123.8 L435.9 122.1 L438.2 123.5 L440.9 124.3 L443.2 125.9 L445.1 124.3 L446.2 121.9 L448.2 120.1 L451.0 119.6 L454.0 119.9 L456.6 120.7 L459.1 121.8 L461.5 120.1 L463.8 117.9 L466.7 117.1 L469.3 116.0 L472.2 115.1 L474.4 115.8 L477.0 115.0 L479.5 115.5 L482.1 115.9 L484.3 117.1 L486.1 119.1 L488.5 118.7 L491.0 118.6 L493.5 119.5 L496.1 118.9 L498.4 118.2 L501.0 118.7 L503.5 118.2 L506.2 118.0 L507.8 119.6 L510.3 120.3 L511.8 122.1 L514.7 122.6 L517.4 123.1 L520.2 123.9 L522.5 124.0 L524.8 124.8 L527.3 124.9 L529.7 125.1 L531.8 125.9 L533.2 128.4 L534.1 130.9 L537.0 132.0 L539.9 132.8 L542.2 135.3 L544.1 138.0 L546.4 137.1 L549.0 137.0 L551.6 137.0 L554.1 136.0 L556.4 135.6 L558.9 135.6 L561.2 134.7 L563.6 134.4 L566.2 133.9 L568.6 133.6 L571.1 132.7 L573.5 131.9 L575.9 130.8 L579.1 131.1 L582.1 131.9 L585.4 131.1 L589.1 131.1 L589.9 128.7 L590.1 126.3 L590.9 124.0 L593.3 122.1 L595.9 121.2 L597.7 122.8 L600.0 123.7 L602.2 124.9 L604.5 125.6 L607.2 125.9 L609.5 127.1 L612.0 127.9 L614.5 128.5 L617.1 128.4 L619.6 129.2 L622.0 129.8 L624.9 126.9 L628.5 126.6 L632.1 126.1 L635.1 125.2 L638.0 123.9 L640.9 127.1 L636.8 129.1 L639.3 130.9 L642.1 132.1 L644.7 131.6 L647.3 132.0 L650.1 132.1 L652.8 131.7 L655.4 130.8 L658.1 130.1 L660.6 130.2 L663.1 130.4 L665.6 131.1 L667.9 132.1 L670.6 132.7 L673.3 133.5 L676.1 134.0 L678.4 135.2 L679.8 137.6 L682.0 139.0 L683.2 141.1 L685.1 142.7 L685.9 144.8 L688.4 145.4 L690.6 146.6 L693.1 147.2 L694.5 149.5 L696.0 152.1 L698.5 152.3 L701.1 151.8 L701.4 155.0 L701.1 157.9 L698.5 159.4 L695.8 160.9 L695.1 163.3 L694.4 165.6 L693.9 168.0 L697.0 169.9 L699.1 171.4 L701.6 171.7 L703.5 173.5 L705.8 174.0 L707.0 176.8 L708.2 179.6 L709.9 181.9 L712.1 183.5 L714.8 183.7 L716.9 185.0 L719.4 183.4 L721.1 181.0 L722.3 183.6 L724.1 185.8 L726.1 188.0 L728.6 187.1 L731.3 186.7 L734.0 186.9 L737.2 188.1 L739.9 190.1 L742.5 188.8 L745.4 189.0 L747.9 188.2 L749.8 190.2 L751.9 192.0 L754.7 193.6 L757.0 195.8 L759.9 197.0 L762.7 197.4 L765.5 197.8 L768.1 198.9 L770.5 200.5 L773.4 200.7 L776.0 201.9 L778.6 201.5 L781.4 201.9 L784.1 201.0 L785.9 198.8 L787.0 196.1 L786.5 193.3 L787.3 190.7 L787.1 188.1 L786.1 185.7 L785.1 183.5 L784.9 181.0 L786.9 178.4 L789.1 176.2 L790.6 174.2 L792.7 172.9 L794.2 171.0 L796.2 169.7 L797.9 167.9 L798.7 164.9 L800.0 161.9 L802.7 161.5 L805.2 160.6 L807.5 158.9 L809.9 157.9 L812.4 156.3 L814.7 154.6 L817.3 153.2 L820.0 152.1 L821.3 149.9 L821.9 147.5 L822.9 145.2 L824.0 142.9 L825.6 140.3 L827.8 138.2 L829.9 136.0 L832.9 137.6 L835.9 138.9 L838.6 138.0 L841.3 137.5 L844.2 137.1 L846.4 137.9 L849.1 137.4 L851.6 137.9 L854.1 139.0 L856.4 140.6 L859.0 142.2 L861.9 142.9 L865.2 142.9 L865.6 139.9 L867.0 137.1 L869.5 136.8 L871.7 135.9 L874.1 135.0 L876.7 134.4 L879.2 133.1 L881.9 133.2 L884.6 131.6 L886.9 129.9 L890.1 132.9 L892.4 132.2 L895.0 132.5 L897.5 132.3 L899.9 132.0 L902.8 131.4 L905.5 131.8 L908.2 132.0 L911.1 132.1 L912.5 134.0 L913.9 136.2 L916.6 136.6 L919.4 136.4 L922.0 137.1 L924.1 138.3 L926.2 139.4 L928.2 140.9 L929.7 143.0 L930.7 145.4 L931.8 147.7 L932.9 150.1 L933.7 152.6 L935.0 155.0 L936.3 157.4 L936.9 160.1 L937.6 162.5 L937.8 165.0 L937.4 167.5 L938.2 170.0 L936.6 172.6 L934.9 174.9 L933.1 177.2 L931.6 179.1 L929.6 180.6 L928.0 182.5 L925.9 183.8 L924.4 186.4 L922.1 188.1 L920.1 190.1 L917.6 191.6 L915.6 193.6 L913.9 196.2 L911.2 196.7 L908.9 198.5 L906.0 199.0 L904.1 200.7 L902.2 202.3 L900.4 204.0 L897.9 205.2 L895.6 206.2 L892.8 206.0 L890.6 207.6 L888.1 208.1 L885.5 208.1 L883.0 208.5 L880.5 208.0 L878.2 207.9 L875.3 207.2 L872.8 205.6 L870.0 205.1 L866.9 206.2 L863.8 207.8 L861.4 208.0 L859.1 209.1 L858.7 211.5 L858.2 214.0 L855.4 214.6 L852.6 214.4 L849.9 214.8 L847.8 216.8 L846.0 219.2 L843.5 220.5 L840.8 221.3 L838.2 222.2 L836.1 223.4 L834.2 224.9 L832.0 226.2 L833.8 227.8 L835.1 230.1 L832.8 231.8 L830.9 233.9 L830.2 236.6 L828.8 238.9 L831.2 240.0 L833.7 240.0 L835.8 241.0 L839.0 241.1 L841.9 242.2 L845.2 241.9 L846.0 244.4 L846.0 247.1 L845.1 250.0 L844.0 253.0 L845.9 254.8 L847.8 256.6 L850.1 257.9 L852.1 259.7 L854.8 260.5 L857.0 262.1 L858.0 264.2 L858.6 266.6 L858.9 269.1 L859.4 272.5 L860.0 276.2 L862.0 277.5 L864.1 279.1 L862.0 281.2 L861.0 284.1 L858.3 284.6 L855.8 285.9 L853.6 288.1 L850.9 289.6 L848.0 291.2 L846.1 292.8 L843.7 294.0 L841.9 296.1 L839.2 294.0 L836.0 293.0 L834.5 295.0 L832.6 296.6 L831.1 298.6 L828.9 300.0 L828.2 302.6 L828.0 305.4 L826.9 308.1 L827.9 310.4 L828.2 313.0 L828.8 315.4 L829.0 317.8 L828.2 320.5 L826.6 322.6 L825.2 324.7 L823.9 326.9 L820.9 328.3 L817.9 329.9 L816.2 332.4 L815.5 335.4 L813.9 338.0 L814.3 340.6 L814.9 343.2 L816.4 345.5 L817.1 347.9 L816.0 351.3 L814.0 354.1 L815.6 356.9 L817.0 359.9 L816.0 362.3 L814.0 364.0 L812.4 365.9 L810.9 368.0 L809.9 370.6 L808.5 373.0 L807.6 375.7 L806.0 378.2 L806.3 380.4 L805.6 382.8 L805.0 385.2 L804.6 387.6 L804.9 390.2 L804.1 392.9 L804.4 396.0 L804.2 399.0 L801.6 398.0 L799.0 397.9 L796.6 397.1 L794.1 396.9 L792.1 398.6 L789.8 399.7 L787.8 401.2 L785.9 403.0 L784.4 404.8 L782.9 406.7 L781.5 408.7 L779.8 410.4 L778.1 411.8 L776.2 414.0 L774.3 415.8 L773.2 418.4 L770.9 420.0 L768.7 420.9 L766.4 421.9 L764.3 423.2 L762.0 424.0 L759.4 422.5 L756.6 421.4 L753.8 420.0 L755.7 418.0 L757.1 415.8 L759.1 414.0 L759.1 410.4 L759.9 406.9 L762.3 404.9 L764.3 402.6 L767.0 400.8 L766.2 397.9 L765.1 395.1 L762.2 395.7 L759.6 397.0 L756.7 397.2 L754.2 397.9 L751.3 397.9 L748.6 398.1 L746.1 398.9 L744.0 395.2 L741.1 394.0 L738.1 394.2 L736.4 396.4 L734.1 397.9 L731.3 397.5 L728.7 398.3 L725.9 398.0 L724.8 395.1 L722.4 392.9 L721.0 389.9 L718.9 391.8 L716.5 393.0 L714.2 394.1 L711.1 394.9 L708.8 397.0 L705.9 398.0 L703.2 399.5 L700.8 401.5 L698.0 403.0 L696.6 405.9 L696.2 409.0 L693.0 409.6 L689.9 410.2 L689.9 412.8 L690.2 415.6 L689.7 418.4 L690.1 421.2 L690.1 423.8 L687.5 423.9 L685.0 424.8 L682.5 424.6 L680.0 425.1 L677.5 426.9 L675.0 428.8 L671.9 430.0 L670.4 427.0 L669.1 423.9 L667.7 421.1 L667.2 417.9 L665.8 414.9 L663.1 414.1 L660.6 412.5 L658.0 411.0 L655.1 412.0 L652.0 412.2 L648.9 413.2 L646.3 411.2 L643.9 409.0 L639.6 408.5 L639.2 406.0 L639.6 403.5 L643.1 402.5 L643.7 400.0 L643.6 397.5 L643.6 394.8 L639.5 393.4 L639.0 391.0 L639.8 388.5 L638.9 386.0 L639.7 383.4 L636.0 381.0 L632.9 381.8 L629.9 382.9 L626.9 382.6 L623.9 382.2 L621.1 381.1 L619.8 383.4 L617.3 384.7 L616.0 387.1 L613.6 387.5 L611.3 388.1 L608.9 388.7 L606.5 388.9 L603.9 389.1 L601.6 388.8 L599.2 388.6 L596.8 388.7 L594.4 389.3 L592.0 389.1 L590.0 386.5 L588.1 384.2 L584.9 383.3 L581.8 381.9 L581.2 379.1 L581.2 376.1 L577.1 375.9 L576.8 378.6 L576.0 381.1 L573.6 381.2 L571.1 381.2 L568.8 382.2 L566.3 382.2 L564.1 383.0 L561.4 382.4 L558.7 382.2 L555.9 382.0 L554.4 384.4 L551.7 385.7 L549.8 387.9 L547.5 387.5 L545.0 388.2 L542.5 388.4 L539.8 388.1 L539.2 384.9 L538.1 381.8 L535.3 382.9 L532.7 384.2 L530.1 385.1 L526.9 385.0 L524.1 384.2 L521.9 379.9 L519.5 380.6 L517.1 380.0 L515.0 382.1 L513.5 384.6 L511.9 386.9 L509.3 387.0 L506.7 388.0 L504.0 387.8 L501.8 386.9 L499.9 385.6 L498.0 383.9 L495.3 384.2 L493.0 385.5 L490.4 385.8 L487.8 387.0 L485.5 386.6 L483.1 385.7 L480.5 385.7 L478.0 384.9 L476.3 382.7 L473.7 381.3 L471.9 378.8 L469.8 377.6 L468.2 375.4 L465.8 374.0 L463.5 373.0 L461.1 371.7 L458.4 371.4 L455.9 370.1 L453.6 369.0 L451.8 367.0 L449.1 366.5 L447.1 365.0 L444.9 367.0 L442.2 368.2 L440.1 370.1 L438.2 371.8 L436.9 373.9 L435.6 376.1 L434.0 378.1 L436.4 380.2 L437.8 382.9 L436.9 385.5 L434.9 387.4 L434.0 390.1 L434.3 393.5 L434.0 397.1 L431.8 398.4 L429.9 400.2 L427.9 401.9 L425.7 403.7 L423.9 405.9 L421.8 407.8 L420.0 410.1 L418.2 411.9 L416.8 414.3 L414.8 416.0 L412.9 417.9 L410.8 419.9 L408.2 421.1 L405.9 422.9 L405.6 425.4 L404.9 427.7 L403.9 429.9 L403.0 432.8 L400.8 435.1 L399.9 438.2 L398.3 439.9 L396.1 441.1 L393.7 442.0 L392.1 444.0 L388.4 443.9 L384.9 442.9 L384.9 440.0 L384.4 437.0 L385.1 434.1 L383.3 431.3 L381.8 428.6 L379.9 426.0 L381.9 423.9 L384.2 422.2 L386.0 420.0 L385.6 416.9 L384.6 414.0 L384.1 411.1 L380.1 412.1 L376.1 410.0 L374.7 413.1 L372.9 416.0 L371.1 417.8 L369.5 419.8 L367.9 422.0 L366.3 424.0 L364.4 425.9 L362.8 428.1 L361.2 429.9 L359.5 427.9 L357.9 425.8 L356.0 424.2 L353.3 422.8 L351.4 420.6 L349.1 419.2 L347.2 417.4 L345.1 416.2 L343.7 414.1 L341.8 412.6 L340.0 411.1 L337.5 409.0 L334.7 407.6 L332.2 405.9 L330.5 403.5 L328.6 401.4 L326.9 399.2 L325.8 396.8 L324.5 394.7 L323.8 392.4 L322.8 390.0 L322.2 387.5 L321.7 384.9 L320.6 382.6 L319.9 380.1 L320.1 377.5 L319.2 375.2 L318.5 372.9 L318.8 370.3 L317.9 367.9 L317.8 364.9 L317.0 362.0 L314.6 363.3 L312.5 365.0 L309.9 366.0 L308.8 363.8 L307.3 361.8 L305.5 360.0 L304.0 357.9 L303.4 355.2 L301.8 352.7 L300.9 350.0 L300.2 347.7 L299.9 345.3 L299.1 343.0 L298.4 340.6 L298.8 338.1 L297.7 335.8 L297.2 333.4 L297.0 331.0 L296.8 328.5 L296.4 326.0 L295.7 323.5 L296.0 320.9 L295.5 318.4 L294.2 316.1 L294.8 313.4 L294.1 310.9 L294.0 308.4 L293.4 306.0 L292.3 303.6 L291.9 301.1 L292.7 298.4 L291.9 296.0 L291.1 293.5 L290.9 290.9 L290.7 288.4 L289.6 286.0 L288.7 283.6 L289.0 280.9 L288.2 278.4 L286.9 276.1 L287.1 273.4 L286.1 271.1 L286.1 268.4 L285.6 265.9 L285.3 263.4 L284.1 261.1 L284.4 258.5 L283.8 256.0 L283.7 253.5 L283.1 251.0 L282.7 248.5 L282.7 246.0 L282.6 243.5 L283.0 241.0 L282.5 238.5 L282.9 236.0 L281.6 233.6 L280.2 231.2 L279.2 228.6 L276.9 226.7 L276.0 224.0 L274.7 221.4 L273.4 218.8 L271.4 216.6 L270.2 213.8 L269.8 211.6 L269.4 209.2 L268.2 206.9 L268.5 204.4 L268.2 201.9 L269.0 199.7 L268.8 197.2 L269.2 194.8 L270.1 192.5 L270.1 190.0 L271.5 187.2 L273.7 184.9 L275.0 182.0 L273.5 179.8 L271.2 178.2 L269.7 176.1 L268.0 174.1 L265.6 172.7 L263.7 170.7 L261.2 169.6 L258.9 168.0 L257.6 165.9 L255.5 164.5 L253.7 162.7 L251.5 161.5 L249.7 159.8 L248.0 158.0 L246.5 155.8 L244.0 154.4 L242.8 151.8 L241.1 149.7 L238.8 147.9 L236.4 147.0 L234.3 145.3 L232.5 143.1 L230.1 142.1 L227.7 140.3 L225.1 139.4 L222.6 138.1 L220.1 137.0 L218.1 135.4 L215.8 134.5 L214.1 132.6 L212.0 131.4 L209.9 129.9 L207.7 129.1 L206.2 127.1 L204.1 126.0 L201.8 124.6 L199.5 123.7 L196.9 122.9 L195.3 120.4 L193.5 117.8 L192.1 115.2 L190.0 116.9 L187.5 117.9 L185.6 120.0 L183.1 121.0 L180.9 122.7 L179.7 125.0 L178.0 127.0 L175.4 127.9 L173.0 129.2 L171.0 130.9 L172.3 134.1 L173.9 136.8 L176.9 137.8 L179.2 139.9 L182.2 140.9 L181.1 144.4 L180.8 148.1 L182.8 150.9 L183.9 153.8 L181.5 154.2 L179.1 154.8 L176.7 155.1 L174.3 155.8 L172.0 156.7 L169.3 155.4 L166.9 153.7 L164.2 153.1 L161.3 152.8 L158.8 152.1 L156.6 150.6 L153.8 149.9 L151.5 148.1 L148.5 147.0 L146.0 144.8 L143.4 143.9 L141.0 142.4 L138.5 141.3 L135.9 140.1 L133.5 139.4 L131.3 138.2 L128.8 137.5 L126.4 136.9 L124.1 136.2 L121.7 134.2 L119.0 132.9 L116.4 131.7 L114.2 130.1 L112.5 127.7 L110.3 126.1 L108.8 123.9 L107.1 122.0 L105.1 119.5 L103.6 116.7 L102.0 114.1 L99.5 112.9 L97.2 111.6 L94.6 110.7 L91.8 109.9 L91.7 107.5 L91.6 105.0 L91.6 102.5 L90.8 100.1 L91.0 97.5 L90.6 95.1 L89.9 92.8 L89.1 90.4 L89.1 88.1 L90.5 85.7 L90.8 82.9 L91.5 80.3 L93.1 77.9 L95.5 76.2 L98.0 74.4 L100.0 72.1 L102.2 71.0 L104.4 69.7 L106.6 68.7 L109.1 68.0 L109.5 64.8 L111.1 61.9 L108.8 59.4 L106.5 57.0 L105.2 54.0 Z" fill="none" stroke="#0f5c0f" stroke-width="1.85" stroke-linejoin="round"/>
<path d="M97.0 109.0 L97.8 106.5 L98.5 104.0 L98.5 101.4 L99.1 98.8 L100.7 96.6 L100.9 94.2 L102.0 91.1 L103.4 88.3 L104.0 85.3 L104.9 82.4 L108.3 84.1 L112.1 85.1 L114.7 85.2 L116.9 86.8 L119.5 87.4 L121.8 88.1 L124.0 89.8 L125.8 91.9 L128.1 93.8 L130.9 92.2 L134.0 91.2 L136.6 92.1 L139.5 91.9 L141.9 93.2 L144.6 95.6 L146.9 98.4 L150.0 98.3 L153.0 98.4 L156.1 95.8 L158.4 96.6 L160.9 97.4 L163.5 97.6 L166.1 98.2 L169.4 99.0 L173.1 98.9 L175.6 96.9 L177.7 94.4 L179.8 92.1 L182.9 91.6 L185.2 89.5 L188.0 88.9 L190.9 87.6 L194.1 87.0 L196.8 85.6 L200.7 86.3 L203.9 88.1 L206.1 90.9 L209.2 92.9 L211.7 94.6 L213.6 97.1 L215.9 99.0 L217.4 101.1 L219.3 102.8 L220.9 104.7 L221.9 107.2 L223.1 109.5 L225.1 111.4 L226.5 113.7 L228.1 116.0 L229.9 118.1 L231.9 120.1 L234.0 122.0 L235.8 123.8 L238.2 125.0 L240.1 126.6 L241.6 128.8 L244.0 129.8 L246.1 131.9 L247.9 134.1 L250.4 135.6 L251.9 138.1 L253.8 140.0 L255.8 142.5 L257.3 145.1 L259.4 147.4 L261.1 149.8 L262.3 152.3 L262.3 155.1 L262.7 157.7 L264.0 160.0 L266.2 161.8 L268.1 163.9 L270.0 166.0 L272.6 167.3 L275.1 168.9 L277.3 170.8 L280.0 172.1 L281.7 173.9 L283.3 175.8 L284.2 178.2 L285.9 180.0 L286.8 183.1 L287.9 185.9 L288.6 188.9 L290.1 191.6 L290.6 194.5 L292.4 197.1 L293.1 200.1 L295.0 202.3 L297.3 204.5 L299.0 206.9 L297.1 210.9 L294.4 210.8 L292.1 210.1 L292.7 213.0 L292.9 216.1 L294.4 218.3 L295.6 220.7 L296.7 223.2 L297.9 225.6 L299.2 227.9 L299.6 230.6 L298.5 233.1 L298.5 235.7 L298.4 238.2 L299.1 240.8 L298.5 243.3 L298.5 245.9 L299.3 248.4 L299.0 251.0" fill="none" stroke="#0000ff" stroke-width="2.0" stroke-linejoin="round" stroke-linecap="round"/>
<path d="M298.9 251.0 L299.2 253.5 L299.2 256.0 L298.7 258.5 L298.1 261.0 L298.1 263.5 L298.0 266.0 L298.4 268.5 L297.9 270.9 L298.5 273.5 L298.5 276.0 L297.9 278.5 L298.2 281.0 L298.3 283.5 L298.4 286.0 L299.2 288.5 L299.0 291.1 L299.0 293.6 L299.4 296.1 L300.5 298.4 L300.4 301.0 L300.7 303.5 L301.2 306.0 L301.9 308.5 L301.9 311.1 L302.6 314.1 L303.9 317.0 L305.0 320.0 L304.8 323.3 L305.1 326.5 L305.7 329.7 L307.0 332.1 L308.5 334.4 L309.5 336.9 L310.5 339.3 L311.5 342.1 L312.9 344.7 L313.8 347.5 L314.7 350.7 L316.8 353.3 L317.8 356.4 L319.5 359.0 L319.7 355.6 L320.4 352.3 L321.8 349.4 L323.9 346.8 L326.0 344.2 L326.4 341.6 L326.8 338.8 L327.5 336.3 L329.5 333.5 L330.9 330.6 L333.9 332.2 L334.0 334.8 L334.5 337.4 L334.2 340.1 L335.0 342.6 L334.6 346.0 L333.8 349.2 L333.2 352.5 L332.6 355.7 L332.1 359.0 L330.7 362.2 L330.9 364.9 L331.0 367.8 L331.2 370.6 L330.8 373.3 L331.2 377.0 L330.7 380.8 L333.7 381.2 L336.5 382.2 L339.1 383.3 L342.0 383.0 L344.7 383.9 L348.0 382.7 L350.9 380.7 L354.1 379.1 L357.4 378.4 L360.1 377.4 L362.3 375.8 L363.9 371.7 L366.7 372.2 L369.4 371.4 L372.2 371.8 L374.5 376.0 L374.3 378.7 L374.6 381.5 L374.1 384.8 L373.0 388.1 L373.7 392.0 L376.9 392.3 L380.3 392.0 L381.9 390.1 L383.3 388.1 L385.7 386.8 L387.6 384.9 L391.4 383.2 L396.5 384.0 L399.5 384.8 L402.1 383.2 L404.6 381.4 L406.5 378.7 L409.2 376.8 L408.9 373.4 L409.4 370.3 L407.8 366.0 L407.1 363.3 L406.2 360.6 L406.3 357.8 L406.7 355.1 L406.8 352.4 L407.3 349.1 L407.7 345.8 L412.7 345.1 L414.2 342.0 L416.7 339.3 L418.7 337.0 L420.8 334.5 L422.1 331.2 L424.0 328.0 L424.3 325.5 L425.5 323.2" fill="none" stroke="#0000ff" stroke-width="1.6" stroke-linejoin="round" stroke-linecap="round"/>
<path d="M425.6 323.2 L426.9 321.0 L428.3 318.7 L430.5 317.2 L432.1 315.0 L433.6 312.5 L434.4 309.5 L436.1 307.0 L438.7 306.7 L441.4 306.6 L444.0 306.1 L447.0 305.2 L450.1 305.4 L453.0 304.7 L455.9 303.9 L458.5 303.5 L460.9 302.7 L463.2 301.5 L465.4 300.3 L468.0 299.9 L470.4 300.8 L473.0 300.6 L475.5 300.4 L477.9 301.2 L480.8 300.5 L483.3 299.0 L486.1 298.1 L488.6 297.5 L490.6 295.5 L493.1 294.8 L495.5 294.0 L497.4 291.9 L500.1 291.0 L501.9 289.1 L503.8 286.5 L505.7 284.1 L507.9 281.9 L510.0 279.9 L511.5 277.5 L513.1 274.8 L515.3 273.8 L517.9 273.4 L519.9 272.0 L522.6 270.9 L525.2 269.6 L527.8 269.0 L530.7 268.6 L533.3 267.5 L535.9 267.2 L539.3 265.4 L542.1 263.0 L544.9 261.7 L547.5 260.0 L550.0 258.1 L551.4 255.7 L552.6 253.2 L554.7 251.4 L556.0 249.1 L556.9 246.6 L558.0 244.2 L559.4 242.0 L560.9 239.9 L561.9 237.5 L563.5 235.2 L563.7 232.4 L565.1 230.0 L567.2 228.7 L569.7 228.0 L571.9 227.0 L575.0 226.4 L578.0 226.7 L581.0 225.7 L584.2 225.8 L586.4 224.7 L588.8 224.3 L591.1 223.2 L593.6 222.6 L596.1 222.2 L599.0 221.4 L601.9 220.6 L605.0 220.7 L607.8 220.5 L611.0 219.8 L614.0 220.5 L617.0 219.9 L620.1 219.8 L622.6 220.1 L624.9 221.5 L627.5 221.6 L630.1 222.1 L632.0 223.8 L634.0 225.6" fill="none" stroke="#0000ff" stroke-width="2.0" stroke-linejoin="round" stroke-linecap="round"/>
<path d="M634.1 225.7 L636.5 226.8 L639.3 226.9 L641.8 227.0 L643.5 229.5 L645.8 231.2 L647.8 233.0 L649.7 235.1 L650.6 237.7 L651.8 239.9 L655.2 242.1 L657.2 239.6 L659.8 238.1 L663.2 238.4 L666.2 239.9 L669.0 239.5 L672.2 239.9 L672.3 242.3 L673.9 244.0 L674.9 246.2 L676.8 248.2 L679.2 249.9 L679.6 252.3 L680.2 254.6 L679.8 256.9 L683.0 257.2 L686.1 256.9 L688.6 255.7 L691.5 255.5 L693.9 254.0 L694.4 256.4 L696.2 258.3 L695.5 261.0 L697.1 263.2 L701.1 263.9 L702.8 261.7 L703.7 258.9 L705.8 257.2 L707.1 254.9 L709.3 253.8 L711.0 252.2 L711.9 249.9 L714.0 248.4 L716.3 247.0 L718.1 245.1 L720.7 243.8 L722.2 241.1 L724.8 239.9 L724.7 237.5 L723.9 235.2 L720.9 235.9 L722.8 232.8 L725.2 230.7 L726.8 227.8 L729.2 225.9 L730.0 222.9 L732.1 221.3 L734.0 219.4 L736.8 220.1 L738.8 222.0 L742.2 221.5 L745.1 220.2 L746.3 222.6 L747.8 225.0 L750.8 226.0 L752.9 228.0 L754.1 230.2 L755.9 231.7 L758.0 233.0 L760.3 235.3 L762.9 237.0 L765.9 238.6 L768.2 241.2 L770.9 242.2 L773.9 242.8 L776.4 243.3 L778.5 244.8 L780.9 245.1 L783.6 244.0 L785.8 242.6 L788.1 240.9 L790.2 239.9 L791.8 238.0 L794.1 237.1 L795.1 234.8 L797.3 233.4 L798.0 230.8 L800.1 228.5 L802.1 226.0 L802.8 223.8 L802.7 221.5 L803.2 219.3 L803.1 217.1 L805.1 215.9 L806.3 213.8 L808.6 212.9 L810.1 211.2 L811.7 208.8 L812.0 205.8 L814.3 205.2 L816.4 204.1 L818.0 202.2 L820.1 201.1 L820.9 198.7 L823.0 197.2 L824.1 195.0 L824.9 192.7 L825.8 190.5 L826.1 187.8 L827.7 185.9 L829.9 184.6 L831.9 183.1 L834.6 181.2 L837.0 178.9 L836.5 176.4 L836.9 173.9 L837.5 171.5 L837.9 168.8 L838.4 166.5 L838.8 164.0 L839.7 161.5 L839.9 159.2 L840.7 156.6 L842.5 154.9 L844.0 152.8 L846.4 150.8 L847.8 148.1 L850.5 146.7 L853.4 146.7 L856.0 146.2 L858.7 146.2 L861.3 145.2 L864.1 144.9 L865.6 142.6 L868.0 141.2 L869.5 143.2 L871.9 144.5 L874.2 145.8 L876.3 146.4 L878.0 148.1 L879.8 149.1 L883.2 148.6 L886.0 146.9 L887.9 145.7 L890.3 145.7 L892.2 144.2 L895.0 144.7 L898.2 145.0 L900.1 145.9 L902.1 146.7 L904.0 147.9 L906.7 148.0 L909.3 147.4 L912.0 147.9 L914.5 148.6 L917.0 148.8 L919.5 147.6 L921.9 148.7 L924.5 150.1 L927.5 150.5 L929.8 152.2 L931.9 154.1 L933.2 156.8 L935.1 159.0 L935.3 161.4 L936.9 163.5 L937.0 166.0" fill="none" stroke="#0000ff" stroke-width="2.7" stroke-linejoin="round" stroke-linecap="round"/>
<g id="riv2" fill="none" stroke="#0000ff" stroke-linejoin="round" stroke-linecap="round"><path stroke-width="1.2" d="M870.2 141.1 L878.3 145.1 L890.3 143.1 L898.3 145.1 L906.3 150.1 L916.3 153.1 L926.4 157.1 L935.4 160.1"/><path stroke-width="1.0" d="M898.3 146.1 L904.3 151.1 L912.3 151.1 L922.3 154.1 L930.4 156.1 L936.4 162.1"/><path stroke-width="1.0" d="M906.3 145.1 L914.3 145.1 L924.3 146.1 L932.4 149.1"/><path stroke-width="1.0" d="M914.3 148.1 L922.3 151.1 L931.4 154.1 L936.4 158.1"/></g>
<g fill="none" stroke="#000" stroke-width="1.7" stroke-linejoin="round"><path d="M544.3 138.6 L527.0 163.4"/><path d="M509.5 189.0 L490.0 212.0 L466.0 240.0 L454.0 251.0 L440.0 265.0 L428.0 281.0 L416.0 299.0 L408.0 317.0 L402.0 335.0 L399.6 350.0 L399.0 370.0 L402.0 396.0 L405.0 414.0 L406.4 423.0"/><path d="M368.0 155.0 L354.0 200.0 L341.1 248.7"/><path d="M331.0 289.0 L316.0 345.0 L310.0 366.0"/><path d="M686.0 145.0 L682.0 150.0 L670.0 168.0 L654.8 193.2"/><path d="M635.6 237.5 L628.0 251.0 L620.0 271.0 L615.6 286.0 L615.0 302.0 L618.0 318.0 L626.0 334.0 L640.0 346.0 L656.0 353.0 L672.0 356.0 L688.0 356.4 L704.0 355.6 L720.0 353.6 L740.0 350.0 L760.0 347.0 L775.6 345.0 L790.0 343.0 L814.0 341.0"/></g>
<text class="cl" text-anchor="middle" transform="translate(516,174) rotate(-62)" y="6.7">0.0</text>
<text class="cl" text-anchor="middle" transform="translate(335,267.6) rotate(-79)" y="6.7">20.0</text>
<text class="cl" text-anchor="middle" transform="translate(642.2,216.9) rotate(-72.4)" y="6.7">−20.0</text>
<circle cx="442.4" cy="239" r="1.9" fill="#0a2a0a" stroke="#1b7a1b" stroke-width="0.6"/>
<circle cx="513" cy="275.4" r="1.9" fill="#0a2a0a" stroke="#1b7a1b" stroke-width="0.6"/>
<circle cx="635" cy="225" r="3.2" fill="#ff0000" stroke="#6a9a20" stroke-width="0.7"/>
<circle cx="643" cy="228" r="3.2" fill="#ff0000" stroke="#6a9a20" stroke-width="0.7"/>
<circle cx="730" cy="223" r="1.9" fill="#0a2a0a" stroke="#1b7a1b" stroke-width="0.6"/>
<circle cx="782" cy="245.5" r="1.9" fill="#0a2a0a" stroke="#1b7a1b" stroke-width="0.6"/>
<circle cx="804.4" cy="170" r="1.9" fill="#0a2a0a" stroke="#1b7a1b" stroke-width="0.6"/>
<circle cx="844" cy="153.6" r="1.9" fill="#0a2a0a" stroke="#1b7a1b" stroke-width="0.6"/>
<circle cx="923" cy="164" r="1.9" fill="#0a2a0a" stroke="#1b7a1b" stroke-width="0.6"/>
<circle cx="894.4" cy="202.6" r="1.9" fill="#0a2a0a" stroke="#1b7a1b" stroke-width="0.6"/>
<circle cx="783.6" cy="279" r="1.9" fill="#0a2a0a" stroke="#1b7a1b" stroke-width="0.6"/>
<circle cx="700.6" cy="306" r="1.9" fill="#0a2a0a" stroke="#1b7a1b" stroke-width="0.6"/>
<circle cx="444" cy="306" r="3.2" fill="#ff0000" stroke="#6a9a20" stroke-width="0.7"/>
<circle cx="424.4" cy="322" r="3.2" fill="#ff0000" stroke="#6a9a20" stroke-width="0.7"/>
<circle cx="407" cy="366" r="3.2" fill="#ff0000" stroke="#6a9a20" stroke-width="0.7"/>
<circle cx="391" cy="383" r="3.2" fill="#ff0000" stroke="#6a9a20" stroke-width="0.7"/>
<text class="city" x="439" y="237.5">成都</text>
<text class="city" x="510" y="274.5">重庆</text>
<text class="city" x="613" y="219.5">三峡</text>
<text class="city" x="649" y="233.5">葛洲坝</text>
<text class="city" x="726" y="222.5">武汉</text>
<text class="city" x="779.5" y="243.5">九江</text>
<text class="city" x="801" y="170.5">合肥</text>
<text class="city" x="842" y="154.5">南京</text>
<text class="city" x="919" y="163.5">上海</text>
<text class="city" x="890" y="201.5">杭州</text>
<text class="city" x="779.6" y="278">南昌</text>
<text class="city" x="696" y="305.5">长沙</text>
<text class="city" x="441" y="303.5">向家坝</text>
<text class="city" x="421" y="319.5">溪洛渡</text>
<text class="city" x="406" y="363.5">白鹤滩</text>
<text class="city" x="389" y="380.5">乌东德</text>
</g>
<rect x="61.1" y="31.3" width="887.8" height="426.3" fill="none" stroke="#262626" stroke-width="1.9"/>
<text class="tk" text-anchor="end" x="52.4" y="55.4">35°N</text>
<text class="tk" text-anchor="end" x="52.4" y="221.4">30°N</text>
<text class="tk" text-anchor="end" x="52.4" y="392.9">25°N</text>
<text class="tk" text-anchor="middle" x="151.7" y="479.5">95°E</text>
<text class="tk" text-anchor="middle" x="311.3" y="479.5">100°E</text>
<text class="tk" text-anchor="middle" x="469.0" y="479.5">105°E</text>
<text class="tk" text-anchor="middle" x="626.7" y="479.5">110°E</text>
<text class="tk" text-anchor="middle" x="786.3" y="479.5">115°E</text>
<text class="tk" text-anchor="middle" x="949.6" y="479.5">120°E</text>
<path d="M1005.1 49.8 L1014.1 32.4 L1023.1 49.8 Z" fill="#5662E8"/>
<rect x="1005.1" y="49.5" width="18.0" height="65.33" fill="#5662E8"/>
<rect x="1005.1" y="114.53" width="18.0" height="65.33" fill="#6496FF"/>
<rect x="1005.1" y="179.56" width="18.0" height="65.33" fill="#9BBBFB"/>
<rect x="1005.1" y="244.59" width="18.0" height="65.33" fill="#00FFFF"/>
<rect x="1005.1" y="309.62" width="18.0" height="65.32999999999997" fill="#FDD05E"/>
<rect x="1005.1" y="374.65" width="18.0" height="65.33000000000003" fill="#FC9A26"/>
<path d="M1005.1 439.18 L1005.1 439.68 L1014.1 456.9 L1023.1 439.68 L1023.1 439.18 Z" fill="#FC9A26"/>
<line x1="1024.1" y1="49.5" x2="1029.3" y2="49.5" stroke="#555" stroke-width="1.2"/>
<text class="cb" x="1034.8" y="55.9">200</text>
<line x1="1024.1" y1="114.53" x2="1029.3" y2="114.53" stroke="#555" stroke-width="1.2"/>
<text class="cb" x="1034.8" y="120.9">100</text>
<line x1="1024.1" y1="179.56" x2="1029.3" y2="179.56" stroke="#555" stroke-width="1.2"/>
<text class="cb" x="1034.8" y="186.0">50</text>
<line x1="1024.1" y1="244.59" x2="1029.3" y2="244.59" stroke="#555" stroke-width="1.2"/>
<text class="cb" x="1034.8" y="251.0">20</text>
<line x1="1024.1" y1="309.62" x2="1029.3" y2="309.62" stroke="#555" stroke-width="1.2"/>
<text class="cb" x="1034.8" y="316.0">0</text>
<line x1="1024.1" y1="374.65" x2="1029.3" y2="374.65" stroke="#555" stroke-width="1.2"/>
<text class="cb" x="1034.8" y="381.0">−20</text>
<line x1="1024.1" y1="439.68" x2="1029.3" y2="439.68" stroke="#555" stroke-width="1.2"/>
<text class="cb" x="1034.8" y="446.1">−50</text>
<text class="ttl" text-anchor="middle" y="20.8" x="354.1 366.8 379.4 392.1 554.4 567.1 579.8 592.5 605.2 617.9 630.6 643.3 656.0">长江流域降水距平百分率预测</text>
<text class="ttl" style="font-size:13px" transform="scale(0.86 1)" text-anchor="middle" y="20.8" x="467.2 474.7 482.3 489.8 497.4 504.9 512.5 520.1 527.6 535.2 542.7 550.3 557.8 565.4 573.0 580.5 588.1 595.6 603.2 610.8 618.3 625.9 633.4">(2024-11-01-2024-11-30)</text>
</svg></body></html>
